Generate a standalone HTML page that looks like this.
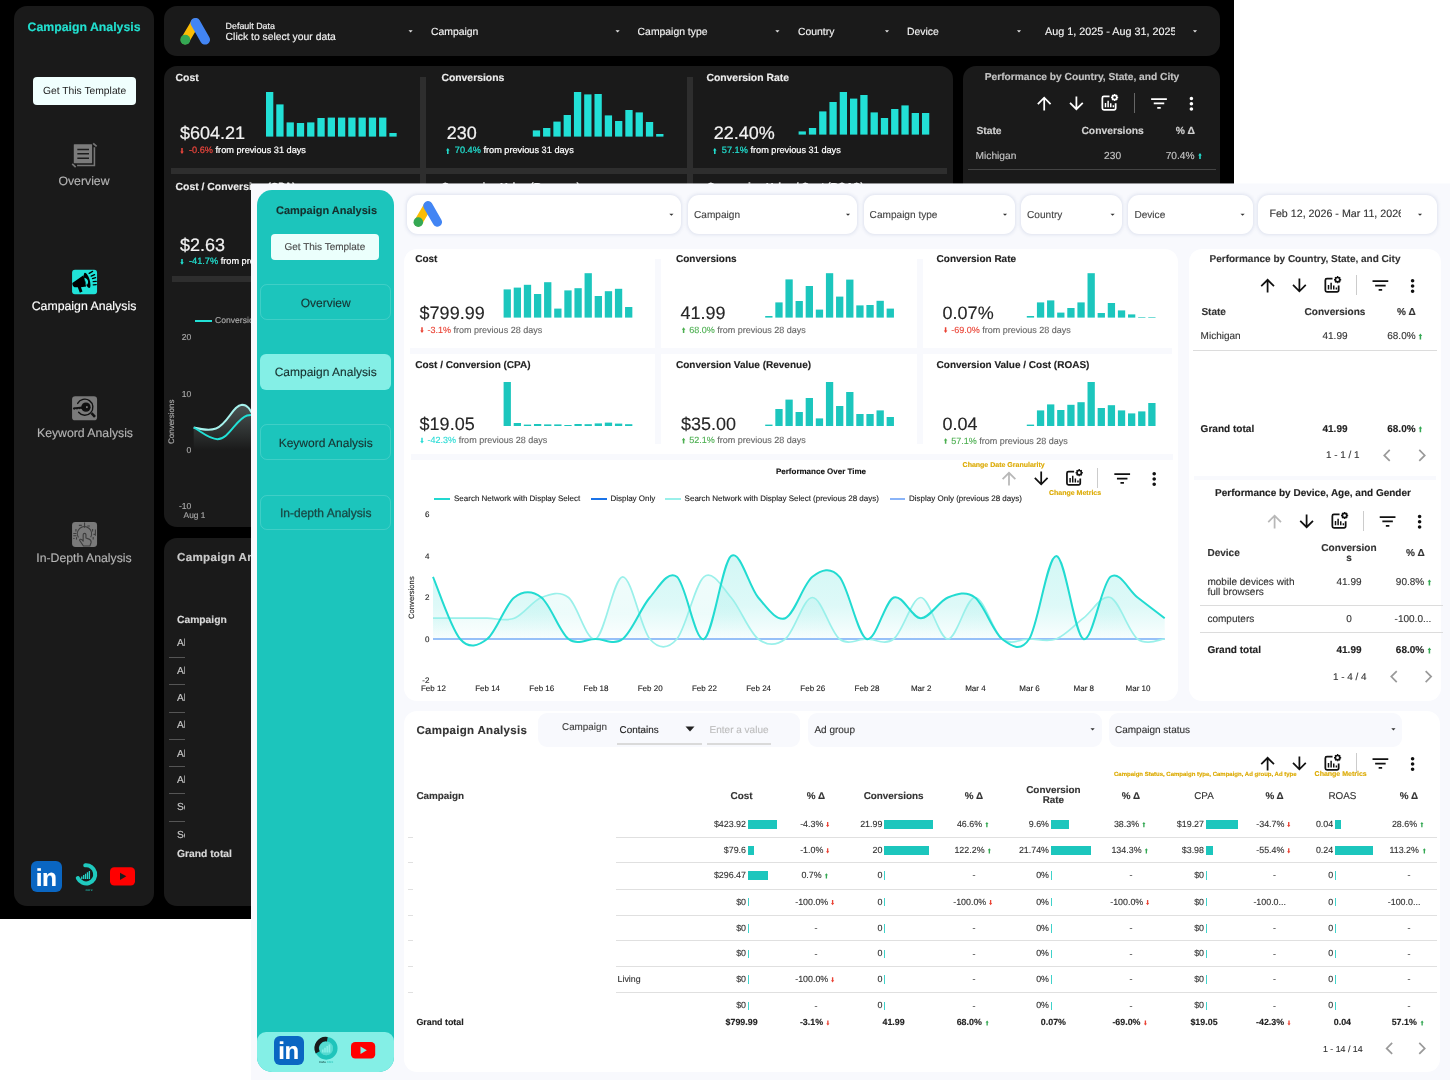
<!DOCTYPE html>
<html lang="en"><head><meta charset="utf-8"><title>Campaign Analysis Dashboard</title>
<style>
html,body{margin:0;padding:0;}
body{width:1450px;height:1080px;position:relative;overflow:hidden;background:#fff;font-family:"Liberation Sans",Arial,sans-serif;text-rendering:geometricPrecision;}
div,svg{position:absolute;white-space:nowrap;}
#dark{left:0;top:0;width:1234px;height:919px;background:#000;overflow:hidden;-webkit-text-stroke:.15px;}
#light{left:251px;top:183px;width:1199px;height:897px;background:linear-gradient(rgba(248,249,253,.55),rgba(248,249,253,.55)) 0 0/100% 1px no-repeat,linear-gradient(#f8f9fd,#f8f9fd) 0 1px/100% 100% no-repeat;overflow:hidden;-webkit-text-stroke:.12px;}
</style></head><body>
<div id="dark">
<div style="left:14.4px;top:6px;width:139.6px;height:899.6px;background:#1a1a1a;border-radius:13px;"></div>
<div style="top:20.12px;font-size:12.3px;line-height:14.76px;color:#22e0d0;font-weight:bold;left:-116px;width:400px;text-align:center;">Campaign Analysis</div>
<div style="left:33px;top:77.4px;width:103.2px;height:28px;background:#f0fffe;border-radius:4px;"></div>
<div style="top:86.12px;font-size:10.3px;line-height:12.36px;color:#222;left:-115.4px;width:400px;text-align:center;-webkit-text-stroke:0;">Get This Template</div>
<svg style="left:71px;top:142px;" width="27" height="26" viewBox="252.081 143.879 971.879 936.121"><path d="M1095 330V990H470" fill="none" stroke="#767676" stroke-width="56"/><path d="M1050 190L1175 300M295 935L420 1050" fill="none" stroke="#767676" stroke-width="62"/><rect x="352" y="222" width="660" height="686" rx="22" fill="#7b7b7b"/><path d="M480 415H900M480 566H900M480 726H900" stroke="#1c1c1c" stroke-width="52" fill="none"/></svg>
<div style="top:174.35px;font-size:12.25px;line-height:14.7px;color:#b4b4b4;left:-116px;width:400px;text-align:center;">Overview</div>
<svg style="left:71px;top:269px;" width="27" height="26" viewBox="251.925 144.16 971.831 936"><rect x="290" y="170" width="900" height="880" rx="105" fill="#20e3d9"/><path d="M300 650L700 372L795 770L610 800L665 955L570 995L495 805L380 805C320 770 295 710 300 650Z" fill="#000"/><ellipse cx="832" cy="552" rx="92" ry="285" transform="rotate(-17 832 552)" fill="#000"/><path d="M728 455C810 470 870 530 868 610C866 660 845 700 815 725C790 650 755 560 728 455Z" fill="#20e3d9"/><path d="M905 300L1030 228M980 402L1100 345M1025 492L1140 455M1050 600L1160 593M1050 712L1160 707" stroke="#000" stroke-width="46" stroke-linecap="round" fill="none"/></svg>
<div style="top:299.42px;font-size:12.3px;line-height:14.76px;color:#ffffff;left:-116px;width:400px;text-align:center;">Campaign Analysis</div>
<svg style="left:71px;top:395px;" width="27" height="26" viewBox="251.925 107.957 971.831 936.084"><rect x="290" y="150" width="900" height="870" rx="115" fill="#7a7a7a"/><path d="M492 412A290 290 0 1 1 525 730" fill="none" stroke="#111" stroke-width="50" stroke-linecap="round"/><path d="M990 760L1115 895" stroke="#111" stroke-width="92" fill="none"/><circle cx="790" cy="545" r="168" fill="#111"/><rect x="792" y="512" width="62" height="66" fill="#7a7a7a"/><path d="M320 578C330 548 360 545 420 545L660 520V610L590 600L560 625L520 605L470 632L420 610L370 635C335 630 315 610 320 578Z" fill="#111"/></svg>
<div style="top:425.85px;font-size:12.25px;line-height:14.7px;color:#b4b4b4;left:-115px;width:400px;text-align:center;">Keyword Analysis</div>
<svg style="left:71px;top:521px;" width="27" height="27" viewBox="251.925 108.044 971.831 971.831"><rect x="290" y="140" width="900" height="900" rx="120" fill="#7a7a7a"/><path d="M520 700A255 255 0 1 1 960 690" fill="none" stroke="#3d3d3d" stroke-width="40"/><path d="M690 760V600C690 540 790 540 790 600V720L900 760C960 790 985 830 975 880L930 1010H700L560 800C560 770 600 750 640 780L690 830Z" fill="#7a7a7a" stroke="#3d3d3d" stroke-width="40" stroke-linejoin="round"/><path d="M740 160V350M535 265H640M840 285H930M430 400V490M1030 400V490M1130 410V640M335 555H450M335 640H450M335 740H380M450 690V770M1050 680V770M1060 590H1140" fill="none" stroke="#3d3d3d" stroke-width="38"/></svg>
<div style="top:550.85px;font-size:12.25px;line-height:14.7px;color:#b4b4b4;left:-116px;width:400px;text-align:center;">In-Depth Analysis</div>
<div style="left:31.4px;top:861px;width:30.6px;height:31px;background:#0a66c2;border-radius:6px;"></div>
<div style="top:863.7px;font-size:24.5px;line-height:29.4px;color:#fff;font-weight:bold;left:-153.8px;width:400px;text-align:center;letter-spacing:-0.4px;">in</div>
<svg style="left:72px;top:860px;" width="28" height="34" viewBox="0 0 28 34"><path d="M13.300 5.280A9.100 9.100 0 1 1 5.850 18.200" fill="none" stroke="#1fc9be" stroke-width="4.100" stroke-linecap="round"/><path d="M9.800 18.900v-2.500M11.700 18.900v-3.800M13.600 18.900v-5.200M15.500 18.900v-6.600M17.400 18.900v-8" stroke="#27d5ca" stroke-width="1.300" fill="none"/><text x="17" y="31.300" font-size="3.400" font-weight="bold" fill="#1fa9a0" text-anchor="middle" font-family="Liberation Sans, sans-serif">core</text></svg>
<svg style="left:110px;top:867px;" width="25" height="19" viewBox="0 -0.3 25 19"><rect x="0" y="0" width="25" height="18.300" rx="4.200" fill="#ff0000"/><path d="M10 5.400l6.300 3.600-6.300 3.600z" fill="#1e1e1e"/></svg>
<div style="left:164px;top:6px;width:1056px;height:50px;background:#1a1a1a;border-radius:13px;"></div>
<svg style="left:180px;top:17px;" width="31" height="29" viewBox="-0.4 -0.9 31 29"><line x1="4.900" y1="21.900" x2="15" y2="4.900" stroke="#fbbc04" stroke-width="8.900" stroke-linecap="round"/><line x1="15" y1="4.900" x2="24.700" y2="21.800" stroke="#4285f4" stroke-width="9.800" stroke-linecap="round"/><circle cx="4.900" cy="21.900" r="5" fill="#34a853"/></svg>
<div style="top:20.66px;font-size:8.9px;line-height:10.68px;color:#f2f2f2;left:225.6px;">Default Data</div>
<div style="top:31.96px;font-size:10.4px;line-height:12.48px;color:#f2f2f2;left:225.6px;">Click to select your data</div>
<svg style="left:405px;top:26px;" width="11" height="11" viewBox="-1.44 -0.48 26.4 26.4"><path d="M7 10l5 5 5-5z" fill="#e0e0e0"/></svg>
<div style="top:26.86px;font-size:10.4px;line-height:12.48px;color:#f2f2f2;left:431px;">Campaign</div>
<svg style="left:612px;top:26px;" width="11" height="11" viewBox="-1.44 -0.48 26.4 26.4"><path d="M7 10l5 5 5-5z" fill="#e0e0e0"/></svg>
<div style="top:26.86px;font-size:10.4px;line-height:12.48px;color:#f2f2f2;left:637.6px;">Campaign type</div>
<svg style="left:772px;top:26px;" width="11" height="11" viewBox="-0.96 -0.48 26.4 26.4"><path d="M7 10l5 5 5-5z" fill="#e0e0e0"/></svg>
<div style="top:26.86px;font-size:10.4px;line-height:12.48px;color:#f2f2f2;left:798px;">Country</div>
<svg style="left:882px;top:26px;" width="10" height="11" viewBox="0 -0.48 24 26.4"><path d="M7 10l5 5 5-5z" fill="#e0e0e0"/></svg>
<div style="top:26.86px;font-size:10.4px;line-height:12.48px;color:#f2f2f2;left:907px;">Device</div>
<svg style="left:1014px;top:26px;" width="10" height="11" viewBox="0 -0.48 24 26.4"><path d="M7 10l5 5 5-5z" fill="#e0e0e0"/></svg>
<div style="top:25.82px;font-size:10.8px;line-height:12.96px;color:#f2f2f2;left:1045px;width:130px;overflow:hidden;">Aug 1, 2025 - Aug 31, 2025</div>
<svg style="left:1190px;top:26px;" width="10" height="11" viewBox="0 -0.48 24 26.4"><path d="M7 10l5 5 5-5z" fill="#e0e0e0"/></svg>
<div style="left:164px;top:66px;width:789px;height:461px;background:#1a1a1a;border-radius:13px;"></div>
<div style="left:171px;top:168px;width:776px;height:5.6px;background:#2e2e2e;"></div>
<div style="left:420px;top:77px;width:6.4px;height:400px;background:#2e2e2e;"></div>
<div style="left:687.4px;top:77px;width:6px;height:400px;background:#2e2e2e;"></div>
<div style="left:172px;top:276px;width:776px;height:5.6px;background:#2e2e2e;"></div>
<div style="top:72.56px;font-size:10.4px;line-height:12.48px;color:#ececec;font-weight:bold;left:175.6px;">Cost</div>
<div style="top:122.6px;font-size:18px;line-height:21.6px;color:#f2f2f2;left:180px;-webkit-text-stroke:.2px;">$604.21</div>
<svg style="left:180px;top:148px;" width="4" height="6" viewBox="-0.2 -0.1 4 6"><path d="M1.8 5.8L3.6 3.42H2.56V0H1.04V3.42H0z" fill="#e8453c"/></svg>
<div style="top:145.48px;font-size:9.2px;line-height:11.04px;color:#ffffff;left:189px;-webkit-text-stroke:.22px;"><span style="color:#e8453c">-0.6%</span> from previous 31 days</div>
<svg style="left:266px;top:92px;" width="132" height="45" viewBox="0 0 132 45"><rect x="0.00" y="0.00" width="7.3" height="44.60" fill="#22e0d6"/><rect x="10.28" y="12.40" width="7.3" height="32.20" fill="#22e0d6"/><rect x="20.56" y="30.40" width="7.3" height="14.20" fill="#22e0d6"/><rect x="30.84" y="31.00" width="7.3" height="13.60" fill="#22e0d6"/><rect x="41.12" y="30.40" width="7.3" height="14.20" fill="#22e0d6"/><rect x="51.40" y="26.00" width="7.3" height="18.60" fill="#22e0d6"/><rect x="61.68" y="25.60" width="7.3" height="19.00" fill="#22e0d6"/><rect x="71.96" y="25.60" width="7.3" height="19.00" fill="#22e0d6"/><rect x="82.24" y="25.60" width="7.3" height="19.00" fill="#22e0d6"/><rect x="92.52" y="25.60" width="7.3" height="19.00" fill="#22e0d6"/><rect x="102.80" y="25.60" width="7.3" height="19.00" fill="#22e0d6"/><rect x="113.08" y="25.60" width="7.3" height="19.00" fill="#22e0d6"/><rect x="123.36" y="41.00" width="7.3" height="3.60" fill="#22e0d6"/></svg>
<div style="top:72.56px;font-size:10.4px;line-height:12.48px;color:#ececec;font-weight:bold;left:441.4px;">Conversions</div>
<div style="top:122.6px;font-size:18px;line-height:21.6px;color:#f2f2f2;left:446.8px;-webkit-text-stroke:.2px;">230</div>
<svg style="left:446px;top:148px;" width="4" height="6" viewBox="0 -0.1 4 6"><path d="M1.8 0L3.6 2.38H2.56V5.8H1.04V2.38H0z" fill="#22e0d0"/></svg>
<div style="top:145.48px;font-size:9.2px;line-height:11.04px;color:#ffffff;left:454.8px;-webkit-text-stroke:.22px;"><span style="color:#22e0d0">70.4%</span> from previous 31 days</div>
<svg style="left:532px;top:92px;" width="133" height="45" viewBox="-0.8 0 133 45"><rect x="0.00" y="38.40" width="7.3" height="6.20" fill="#22e0d6"/><rect x="10.28" y="36.00" width="7.3" height="8.60" fill="#22e0d6"/><rect x="20.56" y="29.60" width="7.3" height="15.00" fill="#22e0d6"/><rect x="30.84" y="23.00" width="7.3" height="21.60" fill="#22e0d6"/><rect x="41.12" y="0.00" width="7.3" height="44.60" fill="#22e0d6"/><rect x="51.40" y="2.40" width="7.3" height="42.20" fill="#22e0d6"/><rect x="61.68" y="2.00" width="7.3" height="42.60" fill="#22e0d6"/><rect x="71.96" y="23.40" width="7.3" height="21.20" fill="#22e0d6"/><rect x="82.24" y="29.00" width="7.3" height="15.60" fill="#22e0d6"/><rect x="92.52" y="18.00" width="7.3" height="26.60" fill="#22e0d6"/><rect x="102.80" y="20.40" width="7.3" height="24.20" fill="#22e0d6"/><rect x="113.08" y="30.00" width="7.3" height="14.60" fill="#22e0d6"/><rect x="123.36" y="42.00" width="7.3" height="2.60" fill="#22e0d6"/></svg>
<div style="top:72.56px;font-size:10.4px;line-height:12.48px;color:#ececec;font-weight:bold;left:706.4px;">Conversion Rate</div>
<div style="top:122.6px;font-size:18px;line-height:21.6px;color:#f2f2f2;left:713.8px;-webkit-text-stroke:.2px;">22.40%</div>
<svg style="left:713px;top:148px;" width="4" height="6" viewBox="0 -0.1 4 6"><path d="M1.8 0L3.6 2.38H2.56V5.8H1.04V2.38H0z" fill="#22e0d0"/></svg>
<div style="top:145.48px;font-size:9.2px;line-height:11.04px;color:#ffffff;left:721.8px;-webkit-text-stroke:.22px;"><span style="color:#22e0d0">57.1%</span> from previous 31 days</div>
<svg style="left:798px;top:92px;" width="133" height="43" viewBox="-0.6 0 133 43"><rect x="0.00" y="39.40" width="7.3" height="3.20" fill="#22e0d6"/><rect x="10.28" y="36.00" width="7.3" height="6.60" fill="#22e0d6"/><rect x="20.56" y="19.40" width="7.3" height="23.20" fill="#22e0d6"/><rect x="30.84" y="10.00" width="7.3" height="32.60" fill="#22e0d6"/><rect x="41.12" y="0.00" width="7.3" height="42.60" fill="#22e0d6"/><rect x="51.40" y="6.60" width="7.3" height="36.00" fill="#22e0d6"/><rect x="61.68" y="3.00" width="7.3" height="39.60" fill="#22e0d6"/><rect x="71.96" y="20.40" width="7.3" height="22.20" fill="#22e0d6"/><rect x="82.24" y="26.00" width="7.3" height="16.60" fill="#22e0d6"/><rect x="92.52" y="17.00" width="7.3" height="25.60" fill="#22e0d6"/><rect x="102.80" y="13.40" width="7.3" height="29.20" fill="#22e0d6"/><rect x="113.08" y="21.00" width="7.3" height="21.60" fill="#22e0d6"/><rect x="123.36" y="21.00" width="7.3" height="21.60" fill="#22e0d6"/></svg>
<div style="top:181.76px;font-size:10.4px;line-height:12.48px;color:#ececec;font-weight:bold;left:175.6px;">Cost / Conversion (CPA)</div>
<div style="top:234.8px;font-size:18px;line-height:21.6px;color:#f2f2f2;left:180px;-webkit-text-stroke:.2px;">$2.63</div>
<svg style="left:180px;top:258px;" width="4" height="7" viewBox="-0.2 -0.9 4 7"><path d="M1.8 5.8L3.6 3.42H2.56V0H1.04V3.42H0z" fill="#22e0d0"/></svg>
<div style="top:256.28px;font-size:9.2px;line-height:11.04px;color:#ffffff;left:189px;-webkit-text-stroke:.22px;"><span style="color:#22e0d0">-41.7%</span> from previous 31 days</div>
<div style="top:181.85px;font-size:10.25px;line-height:12.3px;color:#ececec;font-weight:bold;left:441.4px;">Conversion Value (Revenue)</div>
<div style="top:181.85px;font-size:10.25px;line-height:12.3px;color:#ececec;font-weight:bold;left:707px;">Conversion Value / Cost (ROAS)</div>
<div style="left:195px;top:320.3px;width:16.6px;height:1.8px;background:#22e0d6;"></div>
<div style="top:315.24px;font-size:8.6px;line-height:10.32px;color:#a8a8a8;left:215px;">Conversions</div>
<div style="top:332.04px;font-size:8.6px;line-height:10.32px;color:#a8a8a8;left:161.4px;width:30px;text-align:right;">20</div>
<div style="top:388.64px;font-size:8.6px;line-height:10.32px;color:#a8a8a8;left:161.4px;width:30px;text-align:right;">10</div>
<div style="top:444.84px;font-size:8.6px;line-height:10.32px;color:#a8a8a8;left:161.4px;width:30px;text-align:right;">0</div>
<div style="top:500.84px;font-size:8.6px;line-height:10.32px;color:#a8a8a8;left:161.4px;width:30px;text-align:right;">-10</div>
<div style="top:510.82px;font-size:8.3px;line-height:9.96px;color:#a8a8a8;left:183.6px;">Aug 1</div>
<div style="top:417.2px;font-size:8px;line-height:9.6px;color:#a8a8a8;left:132px;width:80px;text-align:center;transform:rotate(-90deg);">Conversions</div>
<svg style="left:190px;top:395px;" width="120" height="60" viewBox="0 0 120 60"><defs><linearGradient id="dg" x1="0" y1="0" x2="0" y2="1"><stop offset="0" stop-color="#a9c4c2" stop-opacity=".34"/><stop offset="1" stop-color="#a9c4c2" stop-opacity="0"/></linearGradient></defs><path d="M3.700 32.500C12 34.500 19 36 26 33.500C38 29 43 10 52 9.800C59 9.800 61 17 66 26L66 55L3.700 55Z" fill="url(#dg)"/><path d="M3.700 32.500C12 34.500 19 36 26 33.500C38 29 43 10 52 9.800C59 9.800 61 17 66 26" fill="none" stroke="#a6f1ec" stroke-width="1.900"/><path d="M3.700 32.500C12 37 19 44.200 27.500 44.200C39 44.200 46 24 57 20.500C64 18.500 70 22 80 28" fill="none" stroke="#22e0d6" stroke-width="1.900"/></svg>
<div style="left:963px;top:66px;width:257px;height:461px;background:#1a1a1a;border-radius:13px;"></div>
<div style="top:72.08px;font-size:10.2px;line-height:12.24px;color:#c4c4c4;font-weight:bold;left:882px;width:400px;text-align:center;">Performance by Country, State, and City</div>
<svg style="left:1033px;top:92px;" width="22" height="22" viewBox="-0.8 -1.029 25.143 25.143"><path d="M4 12l1.41 1.41L11 7.83V20h2V7.83l5.58 5.59L20 12l-8-8-8 8z" fill="#ffffff"/></svg>
<svg style="left:1065px;top:92px;" width="22" height="22" viewBox="-1.029 -1.029 25.143 25.143"><path d="M20 12l-1.41-1.41L13 16.17V4h-2v12.17l-5.58-5.59L4 12l8 8 8-8z" fill="#ffffff"/></svg>
<svg style="left:1098px;top:92px;" width="22" height="22" viewBox="-0.571 -0.686 25.143 25.143"><path d="M12.600 4.400H6.200A1.800 1.800 0 0 0 4.400 6.200v11.600A1.800 1.800 0 0 0 6.200 19.600h11.600a1.800 1.800 0 0 0 1.800-1.800v-5.600" fill="none" stroke="#ffffff" stroke-width="2"/><path d="M8 16.800v-5M11 16.800v-7.600M14 16.800v-4.600M17 16.800v-2.400" fill="none" stroke="#ffffff" stroke-width="1.700"/><circle cx="18.400" cy="5.600" r="2.500" fill="none" stroke="#ffffff" stroke-width="1.900"/><path d="M18.400 1.500v1.300M18.400 8.400v1.300M14.300 5.600h1.300M21.200 5.600h1.300M15.500 2.700l.9.900M20.400 7.600l.9.900M15.500 8.500l.9-.9M20.400 3.600l.9-.9" fill="none" stroke="#ffffff" stroke-width="1.600"/></svg>
<div style="left:1133.5px;top:92.9px;width:1px;height:20px;background:#666;"></div>
<svg style="left:1148px;top:92px;" width="22" height="22" viewBox="-0.571 -1.029 25.143 25.143"><path d="M10 18h4v-2h-4v2zM3 6v2h18V6H3zm3 7h12v-2H6v2z" fill="#ffffff"/></svg>
<svg style="left:1180px;top:93px;" width="22" height="22" viewBox="-1.029 -0.229 25.143 25.143"><path d="M12 8c1.1 0 2-.9 2-2s-.9-2-2-2-2 .9-2 2 .9 2 2 2zm0 2c-1.1 0-2 .9-2 2s.9 2 2 2 2-.9 2-2-.9-2-2-2zm0 6c-1.1 0-2 .9-2 2s.9 2 2 2 2-.9 2-2-.9-2-2-2z" fill="#ffffff"/></svg>
<div style="top:126.02px;font-size:10.3px;line-height:12.36px;color:#d0d0d0;font-weight:bold;left:976.4px;">State</div>
<div style="top:126.02px;font-size:10.3px;line-height:12.36px;color:#d0d0d0;font-weight:bold;left:912.6px;width:400px;text-align:center;">Conversions</div>
<div style="top:126.02px;font-size:10.3px;line-height:12.36px;color:#d0d0d0;font-weight:bold;left:985.4px;width:400px;text-align:center;">% Δ</div>
<div style="top:151.08px;font-size:10.2px;line-height:12.24px;color:#c4c4c4;left:975.6px;">Michigan</div>
<div style="top:151.08px;font-size:10.2px;line-height:12.24px;color:#c4c4c4;left:912.6px;width:400px;text-align:center;">230</div>
<div style="top:151.08px;font-size:10.2px;line-height:12.24px;color:#c4c4c4;left:794.6px;width:400px;text-align:right;">70.4%</div>
<svg style="left:1198px;top:153px;" width="4" height="6" viewBox="-0.2 0 4 6"><path d="M1.8 0L3.6 2.38H2.56V6H1.04V2.38H0z" fill="#22e0d0"/></svg>
<div style="left:968px;top:169px;width:248px;height:1px;background:#444;"></div>
<div style="left:164px;top:538px;width:1056px;height:368px;background:#1a1a1a;border-radius:13px;"></div>
<div style="top:551.24px;font-size:11.6px;line-height:13.92px;color:#cacaca;font-weight:bold;left:177px;letter-spacing:.3px;">Campaign Analysis</div>
<div style="top:614.72px;font-size:10.3px;line-height:12.36px;color:#d8d8d8;font-weight:bold;left:177px;">Campaign</div>
<div style="top:638.28px;font-size:10.2px;line-height:12.24px;color:#c8c8c8;left:177px;width:7.7px;overflow:hidden;">Ab</div>
<div style="top:665.78px;font-size:10.2px;line-height:12.24px;color:#c8c8c8;left:177px;width:7.7px;overflow:hidden;">Ab</div>
<div style="top:693.38px;font-size:10.2px;line-height:12.24px;color:#c8c8c8;left:177px;width:7.7px;overflow:hidden;">Ab</div>
<div style="top:720.48px;font-size:10.2px;line-height:12.24px;color:#c8c8c8;left:177px;width:7.7px;overflow:hidden;">Ab</div>
<div style="top:749.08px;font-size:10.2px;line-height:12.24px;color:#c8c8c8;left:177px;width:7.7px;overflow:hidden;">Ab</div>
<div style="top:775.48px;font-size:10.2px;line-height:12.24px;color:#c8c8c8;left:177px;width:7.7px;overflow:hidden;">Ab</div>
<div style="top:802.48px;font-size:10.2px;line-height:12.24px;color:#c8c8c8;left:177px;width:7.7px;overflow:hidden;">Se</div>
<div style="top:830.28px;font-size:10.2px;line-height:12.24px;color:#c8c8c8;left:177px;width:7.7px;overflow:hidden;">Se</div>
<div style="left:168.6px;top:656.9px;width:16px;height:1px;background:#555;"></div>
<div style="left:168.6px;top:684.1px;width:16px;height:1px;background:#555;"></div>
<div style="left:168.6px;top:711.5px;width:16px;height:1px;background:#555;"></div>
<div style="left:168.6px;top:738.5px;width:16px;height:1px;background:#555;"></div>
<div style="left:168.6px;top:765.9px;width:16px;height:1px;background:#555;"></div>
<div style="left:168.6px;top:793.1px;width:16px;height:1px;background:#555;"></div>
<div style="left:168.6px;top:821.1px;width:16px;height:1px;background:#555;"></div>
<div style="top:849.32px;font-size:10.3px;line-height:12.36px;color:#d8d8d8;font-weight:bold;left:177px;">Grand total</div>
</div>
<div id="light">
<div style="left:6.4px;top:6.6px;width:136.6px;height:882.4px;background:#1cc5bc;border-radius:15px;"></div>
<div style="top:22.4px;font-size:11px;line-height:13.2px;color:#15302e;font-weight:bold;left:-124.5px;width:400px;text-align:center;">Campaign Analysis</div>
<div style="left:19.6px;top:50.6px;width:108.4px;height:26.8px;background:#ebfffc;border-radius:4px;"></div>
<div style="top:59.2px;font-size:10px;line-height:12px;color:#4a4a4a;left:-126.2px;width:400px;text-align:center;">Get This Template</div>
<div style="left:9px;top:100.6px;width:131px;height:36px;background:transparent;border-radius:7px;box-sizing:border-box;border:1px solid rgba(255,255,255,.16);"></div>
<div style="top:112.8px;font-size:12px;line-height:14.4px;color:#17302e;left:-125.3px;width:400px;text-align:center;">Overview</div>
<div style="left:8.9px;top:171px;width:131.6px;height:36.4px;background:#84efe6;border-radius:6px;"></div>
<div style="top:182px;font-size:12px;line-height:14.4px;color:#17302e;left:-125.3px;width:400px;text-align:center;">Campaign Analysis</div>
<div style="left:9px;top:241px;width:131px;height:36.4px;background:transparent;border-radius:7px;box-sizing:border-box;border:1px solid rgba(255,255,255,.16);"></div>
<div style="top:253px;font-size:12px;line-height:14.4px;color:#17302e;left:-125.3px;width:400px;text-align:center;">Keyword Analysis</div>
<div style="left:9px;top:312px;width:131px;height:35.4px;background:transparent;border-radius:7px;box-sizing:border-box;border:1px solid rgba(255,255,255,.16);"></div>
<div style="top:323px;font-size:12px;line-height:14.4px;color:#184a46;left:-125.3px;width:400px;text-align:center;-webkit-text-stroke:.3px;">In-depth Analysis</div>
<div style="left:6.4px;top:848.6px;width:136.6px;height:40.4px;background:#84efe6;border-radius:9px 9px 15px 15px;"></div>
<div style="left:23px;top:852.6px;width:29.6px;height:29px;background:#0a66c2;border-radius:6px;"></div>
<div style="top:854.9px;font-size:24px;line-height:28.8px;color:#fff;font-weight:bold;left:-162.4px;width:400px;text-align:center;letter-spacing:-0.4px;">in</div>
<svg style="left:61px;top:852px;" width="28" height="32" viewBox="0 0 28 32"><circle cx="14.200" cy="13.300" r="6.900" fill="#56dad1"/><circle cx="14.200" cy="13.300" r="9.100" fill="none" stroke="#1fc4bb" stroke-width="4.500"/><path d="M5.700 17.400A9.100 9.100 0 0 1 15.300 4.250" fill="none" stroke="#1a1a1a" stroke-width="4.500"/><path d="M10.800 17.600v-3M13 17.600v-4.800M15.200 17.600v-6.500M17.400 17.600v-8" stroke="#86efe7" stroke-width="1.700" fill="none"/><text x="14.200" y="28.300" font-size="3.100" font-weight="bold" fill="#2a6b66" text-anchor="middle" font-family="Liberation Sans, sans-serif">Data <tspan fill="#35c9c0">core</tspan></text></svg>
<svg style="left:100px;top:859px;" width="25" height="17" viewBox="0 0 25 17"><rect x="0" y="0" width="24.200" height="16.600" rx="4.200" fill="#ff0000"/><path d="M9.500 4.500l6.300 3.800-6.300 3.800z" fill="#84efe6"/></svg>
<div style="left:156px;top:12px;width:274px;height:39px;background:#fff;border-radius:11px;box-shadow:0 0 3.500px .500px rgba(90,110,160,.15);"></div>
<svg style="left:162px;top:18px;" width="30" height="27" viewBox="-0.625 0 31.25 27.914"><line x1="4.900" y1="21.900" x2="15" y2="4.900" stroke="#fbbc04" stroke-width="8.900" stroke-linecap="round"/><line x1="15" y1="4.900" x2="24.700" y2="21.800" stroke="#4285f4" stroke-width="9.800" stroke-linecap="round"/><circle cx="4.900" cy="21.900" r="5" fill="#34a853"/></svg>
<svg style="left:415px;top:26px;" width="11" height="11" viewBox="-0.96 -1.44 26.4 26.4"><path d="M7 10l5 5 5-5z" fill="#333"/></svg>
<div style="left:437px;top:12px;width:169px;height:39px;background:#fff;border-radius:11px;box-shadow:0 0 3.500px .500px rgba(90,110,160,.15);"></div>
<div style="top:27.24px;font-size:10.1px;line-height:12.12px;color:#444;left:443px;">Campaign</div>
<svg style="left:592px;top:26px;" width="10" height="11" viewBox="0 -1.44 24 26.4"><path d="M7 10l5 5 5-5z" fill="#333"/></svg>
<div style="left:612.6px;top:12px;width:151.4px;height:39px;background:#fff;border-radius:11px;box-shadow:0 0 3.500px .500px rgba(90,110,160,.15);"></div>
<div style="top:27.24px;font-size:10.1px;line-height:12.12px;color:#444;left:618.6px;">Campaign type</div>
<svg style="left:749px;top:26px;" width="10" height="11" viewBox="0 -1.44 24 26.4"><path d="M7 10l5 5 5-5z" fill="#333"/></svg>
<div style="left:770px;top:12px;width:101px;height:39px;background:#fff;border-radius:11px;box-shadow:0 0 3.500px .500px rgba(90,110,160,.15);"></div>
<div style="top:27.24px;font-size:10.1px;line-height:12.12px;color:#444;left:776px;">Country</div>
<svg style="left:856px;top:26px;" width="11" height="11" viewBox="-1.44 -1.44 26.4 26.4"><path d="M7 10l5 5 5-5z" fill="#333"/></svg>
<div style="left:877px;top:12px;width:125px;height:39px;background:#fff;border-radius:11px;box-shadow:0 0 3.500px .500px rgba(90,110,160,.15);"></div>
<div style="top:27.24px;font-size:10.1px;line-height:12.12px;color:#444;left:883.4px;">Device</div>
<svg style="left:986px;top:26px;" width="11" height="11" viewBox="-1.44 -1.44 26.4 26.4"><path d="M7 10l5 5 5-5z" fill="#333"/></svg>
<div style="left:1007px;top:12px;width:179px;height:39px;background:#fff;border-radius:11px;box-shadow:0 0 3.500px .500px rgba(90,110,160,.15);"></div>
<div style="top:25.48px;font-size:10.7px;line-height:12.84px;color:#333;left:1018.4px;width:131.2px;overflow:hidden;">Feb 12, 2026 - Mar 11, 2026</div>
<svg style="left:1164px;top:26px;" width="10" height="11" viewBox="0 -1.44 24 26.4"><path d="M7 10l5 5 5-5z" fill="#333"/></svg>
<div style="left:153px;top:66px;width:774px;height:452px;background:#fff;border-radius:13px;"></div>
<div style="left:159.4px;top:165px;width:761.6px;height:5.6px;background:#f8f9fd;"></div>
<div style="left:404px;top:76px;width:6px;height:185.4px;background:#f8f9fd;"></div>
<div style="left:666px;top:76px;width:5.6px;height:185.4px;background:#f8f9fd;"></div>
<div style="left:160px;top:271.4px;width:762px;height:5.6px;background:#f8f9fd;"></div>
<div style="top:71.2px;font-size:10px;line-height:12px;color:#222;font-weight:bold;left:164.2px;">Cost</div>
<div style="top:119.8px;font-size:18px;line-height:21.6px;color:#262626;left:168.6px;">$799.99</div>
<svg style="left:169px;top:144px;" width="4" height="6" viewBox="-0.2 -0.3 4 6"><path d="M1.8 5.6L3.6 3.22H2.56V0H1.04V3.22H0z" fill="#ea4335"/></svg>
<div style="top:141.9px;font-size:9px;line-height:10.8px;color:#666;left:176.6px;"><span style="color:#ea4335">-3.1%</span> from previous 28 days</div>
<svg style="left:252px;top:90px;" width="131" height="46" viewBox="-0.6 -0.2 131 46"><rect x="0.00" y="16.20" width="7.3" height="28.20" fill="#1cc6bd"/><rect x="10.12" y="14.40" width="7.3" height="30.00" fill="#1cc6bd"/><rect x="20.24" y="11.60" width="7.3" height="32.80" fill="#1cc6bd"/><rect x="30.36" y="20.80" width="7.3" height="23.60" fill="#1cc6bd"/><rect x="40.48" y="9.00" width="7.3" height="35.40" fill="#1cc6bd"/><rect x="50.60" y="35.40" width="7.3" height="9.00" fill="#1cc6bd"/><rect x="60.72" y="17.20" width="7.3" height="27.20" fill="#1cc6bd"/><rect x="70.84" y="15.00" width="7.3" height="29.40" fill="#1cc6bd"/><rect x="80.96" y="0.00" width="7.3" height="44.40" fill="#1cc6bd"/><rect x="91.08" y="22.80" width="7.3" height="21.60" fill="#1cc6bd"/><rect x="101.20" y="18.00" width="7.3" height="26.40" fill="#1cc6bd"/><rect x="111.32" y="15.60" width="7.3" height="28.80" fill="#1cc6bd"/><rect x="121.44" y="33.80" width="7.3" height="10.60" fill="#1cc6bd"/></svg>
<div style="top:71.2px;font-size:10px;line-height:12px;color:#222;font-weight:bold;left:425px;">Conversions</div>
<div style="top:119.8px;font-size:18px;line-height:21.6px;color:#262626;left:429.4px;">41.99</div>
<svg style="left:430px;top:144px;" width="5" height="6" viewBox="-0.8 -0.3 5 6"><path d="M1.8 0L3.6 2.38H2.56V5.6H1.04V2.38H0z" fill="#4caf50"/></svg>
<div style="top:141.9px;font-size:9px;line-height:10.8px;color:#666;left:438.2px;"><span style="color:#4caf50">68.0%</span> from previous 28 days</div>
<svg style="left:514px;top:90px;" width="131" height="46" viewBox="-0.2 -0.2 131 46"><rect x="0.00" y="42.80" width="7.3" height="1.60" fill="#1cc6bd"/><rect x="10.12" y="29.20" width="7.3" height="15.20" fill="#1cc6bd"/><rect x="20.24" y="6.20" width="7.3" height="38.20" fill="#1cc6bd"/><rect x="30.36" y="27.80" width="7.3" height="16.60" fill="#1cc6bd"/><rect x="40.48" y="12.80" width="7.3" height="31.60" fill="#1cc6bd"/><rect x="50.60" y="36.40" width="7.3" height="8.00" fill="#1cc6bd"/><rect x="60.72" y="0.00" width="7.3" height="44.40" fill="#1cc6bd"/><rect x="70.84" y="23.40" width="7.3" height="21.00" fill="#1cc6bd"/><rect x="80.96" y="6.40" width="7.3" height="38.00" fill="#1cc6bd"/><rect x="91.08" y="32.20" width="7.3" height="12.20" fill="#1cc6bd"/><rect x="101.20" y="31.80" width="7.3" height="12.60" fill="#1cc6bd"/><rect x="111.32" y="27.60" width="7.3" height="16.80" fill="#1cc6bd"/><rect x="121.44" y="35.40" width="7.3" height="9.00" fill="#1cc6bd"/></svg>
<div style="top:71.2px;font-size:10px;line-height:12px;color:#222;font-weight:bold;left:685.6px;">Conversion Rate</div>
<div style="top:119.8px;font-size:18px;line-height:21.6px;color:#262626;left:691.6px;">0.07%</div>
<svg style="left:692px;top:144px;" width="5" height="6" viewBox="-0.8 -0.3 5 6"><path d="M1.8 5.6L3.6 3.22H2.56V0H1.04V3.22H0z" fill="#ea4335"/></svg>
<div style="top:141.9px;font-size:9px;line-height:10.8px;color:#666;left:700.2px;"><span style="color:#ea4335">-69.0%</span> from previous 28 days</div>
<svg style="left:775px;top:90px;" width="131" height="46" viewBox="-0.8 -0.2 131 46"><rect x="0.00" y="42.80" width="7.3" height="1.60" fill="#1cc6bd"/><rect x="10.12" y="29.20" width="7.3" height="15.20" fill="#1cc6bd"/><rect x="20.24" y="27.20" width="7.3" height="17.20" fill="#1cc6bd"/><rect x="30.36" y="39.40" width="7.3" height="5.00" fill="#1cc6bd"/><rect x="40.48" y="34.80" width="7.3" height="9.60" fill="#1cc6bd"/><rect x="50.60" y="29.20" width="7.3" height="15.20" fill="#1cc6bd"/><rect x="60.72" y="0.00" width="7.3" height="44.40" fill="#1cc6bd"/><rect x="70.84" y="39.80" width="7.3" height="4.60" fill="#1cc6bd"/><rect x="80.96" y="29.80" width="7.3" height="14.60" fill="#1cc6bd"/><rect x="91.08" y="37.20" width="7.3" height="7.20" fill="#1cc6bd"/><rect x="101.20" y="41.20" width="7.3" height="3.20" fill="#1cc6bd"/><rect x="111.32" y="43.80" width="7.3" height="0.60" fill="#1cc6bd"/><rect x="121.44" y="43.80" width="7.3" height="0.60" fill="#1cc6bd"/></svg>
<div style="top:177.2px;font-size:10px;line-height:12px;color:#222;font-weight:bold;left:164.2px;">Cost / Conversion (CPA)</div>
<div style="top:231.2px;font-size:18px;line-height:21.6px;color:#262626;left:168.6px;">$19.05</div>
<svg style="left:169px;top:254px;" width="4" height="7" viewBox="-0.2 -0.8 4 7"><path d="M1.8 5.6L3.6 3.22H2.56V0H1.04V3.22H0z" fill="#2bdcd6"/></svg>
<div style="top:252.4px;font-size:9px;line-height:10.8px;color:#666;left:176.6px;"><span style="color:#2bdcd6">-42.3%</span> from previous 28 days</div>
<svg style="left:252px;top:199px;" width="131" height="44" viewBox="-0.6 0 131 44"><rect x="0.00" y="0.00" width="7.3" height="44.00" fill="#1cc6bd"/><rect x="10.12" y="41.00" width="7.3" height="3.00" fill="#1cc6bd"/><rect x="20.24" y="42.60" width="7.3" height="1.40" fill="#1cc6bd"/><rect x="30.36" y="42.00" width="7.3" height="2.00" fill="#1cc6bd"/><rect x="40.48" y="42.40" width="7.3" height="1.60" fill="#1cc6bd"/><rect x="50.60" y="42.40" width="7.3" height="1.60" fill="#1cc6bd"/><rect x="60.72" y="43.00" width="7.3" height="1.00" fill="#1cc6bd"/><rect x="70.84" y="42.00" width="7.3" height="2.00" fill="#1cc6bd"/><rect x="80.96" y="42.20" width="7.3" height="1.80" fill="#1cc6bd"/><rect x="91.08" y="41.40" width="7.3" height="2.60" fill="#1cc6bd"/><rect x="101.20" y="40.60" width="7.3" height="3.40" fill="#1cc6bd"/><rect x="111.32" y="41.60" width="7.3" height="2.40" fill="#1cc6bd"/><rect x="121.44" y="42.20" width="7.3" height="1.80" fill="#1cc6bd"/></svg>
<div style="top:177.2px;font-size:10px;line-height:12px;color:#222;font-weight:bold;left:425px;">Conversion Value (Revenue)</div>
<div style="top:231.2px;font-size:18px;line-height:21.6px;color:#262626;left:430px;">$35.00</div>
<svg style="left:430px;top:254px;" width="5" height="7" viewBox="-0.8 -0.8 5 7"><path d="M1.8 0L3.6 2.38H2.56V5.6H1.04V2.38H0z" fill="#4caf50"/></svg>
<div style="top:252.4px;font-size:9px;line-height:10.8px;color:#666;left:438.2px;"><span style="color:#4caf50">52.1%</span> from previous 28 days</div>
<svg style="left:514px;top:199px;" width="131" height="44" viewBox="-0.2 0 131 44"><rect x="0.00" y="42.60" width="7.3" height="1.40" fill="#1cc6bd"/><rect x="10.12" y="27.00" width="7.3" height="17.00" fill="#1cc6bd"/><rect x="20.24" y="17.60" width="7.3" height="26.40" fill="#1cc6bd"/><rect x="30.36" y="30.00" width="7.3" height="14.00" fill="#1cc6bd"/><rect x="40.48" y="16.00" width="7.3" height="28.00" fill="#1cc6bd"/><rect x="50.60" y="36.40" width="7.3" height="7.60" fill="#1cc6bd"/><rect x="60.72" y="0.00" width="7.3" height="44.00" fill="#1cc6bd"/><rect x="70.84" y="24.00" width="7.3" height="20.00" fill="#1cc6bd"/><rect x="80.96" y="10.00" width="7.3" height="34.00" fill="#1cc6bd"/><rect x="91.08" y="32.00" width="7.3" height="12.00" fill="#1cc6bd"/><rect x="101.20" y="32.00" width="7.3" height="12.00" fill="#1cc6bd"/><rect x="111.32" y="28.40" width="7.3" height="15.60" fill="#1cc6bd"/><rect x="121.44" y="35.00" width="7.3" height="9.00" fill="#1cc6bd"/></svg>
<div style="top:177.2px;font-size:10px;line-height:12px;color:#222;font-weight:bold;left:685.6px;">Conversion Value / Cost (ROAS)</div>
<div style="top:231.2px;font-size:18px;line-height:21.6px;color:#262626;left:691.6px;">0.04</div>
<svg style="left:692px;top:255px;" width="5" height="6" viewBox="-0.8 -0.2 5 6"><path d="M1.8 0L3.6 2.38H2.56V5.6H1.04V2.38H0z" fill="#4caf50"/></svg>
<div style="top:252.8px;font-size:9px;line-height:10.8px;color:#666;left:700.2px;"><span style="color:#4caf50">57.1%</span> from previous 28 days</div>
<svg style="left:775px;top:199px;" width="131" height="44" viewBox="-0.8 0 131 44"><rect x="0.00" y="42.60" width="7.3" height="1.40" fill="#1cc6bd"/><rect x="10.12" y="28.40" width="7.3" height="15.60" fill="#1cc6bd"/><rect x="20.24" y="22.40" width="7.3" height="21.60" fill="#1cc6bd"/><rect x="30.36" y="28.00" width="7.3" height="16.00" fill="#1cc6bd"/><rect x="40.48" y="22.80" width="7.3" height="21.20" fill="#1cc6bd"/><rect x="50.60" y="20.20" width="7.3" height="23.80" fill="#1cc6bd"/><rect x="60.72" y="0.00" width="7.3" height="44.00" fill="#1cc6bd"/><rect x="70.84" y="26.00" width="7.3" height="18.00" fill="#1cc6bd"/><rect x="80.96" y="23.20" width="7.3" height="20.80" fill="#1cc6bd"/><rect x="91.08" y="28.40" width="7.3" height="15.60" fill="#1cc6bd"/><rect x="101.20" y="31.40" width="7.3" height="12.60" fill="#1cc6bd"/><rect x="111.32" y="29.40" width="7.3" height="14.60" fill="#1cc6bd"/><rect x="121.44" y="21.00" width="7.3" height="23.00" fill="#1cc6bd"/></svg>
<div style="top:284.2px;font-size:8px;line-height:9.6px;color:#111;font-weight:bold;left:370px;width:400px;text-align:center;">Performance Over Time</div>
<div style="top:279.3px;font-size:7px;line-height:8.4px;color:#dcaa00;font-weight:bold;left:711.6px;">Change Date Granularity</div>
<div style="top:307.2px;font-size:7px;line-height:8.4px;color:#dcaa00;font-weight:bold;left:798px;">Change Metrics</div>
<svg style="left:747px;top:285px;" width="22" height="22" viewBox="-0.571 -0.114 25.143 25.143"><path d="M4 12l1.41 1.41L11 7.83V20h2V7.83l5.58 5.59L20 12l-8-8-8 8z" fill="#b8b8b8"/></svg>
<svg style="left:779px;top:285px;" width="22" height="22" viewBox="-0.8 -0.114 25.143 25.143"><path d="M20 12l-1.41-1.41L13 16.17V4h-2v12.17l-5.58-5.59L4 12l8 8 8-8z" fill="#111"/></svg>
<svg style="left:812px;top:284px;" width="22" height="22" viewBox="-0.114 -0.914 25.143 25.143"><path d="M12.600 4.400H6.200A1.800 1.800 0 0 0 4.400 6.200v11.600A1.800 1.800 0 0 0 6.200 19.600h11.600a1.800 1.800 0 0 0 1.800-1.800v-5.600" fill="none" stroke="#111" stroke-width="2"/><path d="M8 16.800v-5M11 16.800v-7.600M14 16.800v-4.600M17 16.800v-2.400" fill="none" stroke="#111" stroke-width="1.700"/><circle cx="18.400" cy="5.600" r="2.500" fill="none" stroke="#111" stroke-width="1.900"/><path d="M18.400 1.500v1.300M18.400 8.400v1.300M14.300 5.600h1.300M21.200 5.600h1.300M15.500 2.700l.9.900M20.400 7.600l.9.900M15.500 8.500l.9-.9M20.400 3.600l.9-.9" fill="none" stroke="#111" stroke-width="1.600"/></svg>
<div style="left:846.1px;top:285.1px;width:1px;height:20px;background:#ccc;"></div>
<svg style="left:860px;top:285px;" width="22" height="22" viewBox="-0.8 -0.114 25.143 25.143"><path d="M10 18h4v-2h-4v2zM3 6v2h18V6H3zm3 7h12v-2H6v2z" fill="#111"/></svg>
<svg style="left:892px;top:285px;" width="22" height="22" viewBox="-0.8 -0.457 25.143 25.143"><path d="M12 8c1.1 0 2-.9 2-2s-.9-2-2-2-2 .9-2 2 .9 2 2 2zm0 2c-1.1 0-2 .9-2 2s.9 2 2 2 2-.9 2-2-.9-2-2-2zm0 6c-1.1 0-2 .9-2 2s.9 2 2 2 2-.9 2-2-.9-2-2-2z" fill="#111"/></svg>
<div style="left:183.4px;top:315px;width:16px;height:1.6px;background:#22d8d0;"></div>
<div style="top:310.7px;font-size:8px;line-height:9.6px;color:#222;left:203px;">Search Network with Display Select</div>
<div style="left:340px;top:315px;width:15.6px;height:1.6px;background:#1a73e8;"></div>
<div style="top:310.7px;font-size:8px;line-height:9.6px;color:#222;left:359.4px;">Display Only</div>
<div style="left:414px;top:315px;width:16px;height:1.6px;background:#9af0ea;"></div>
<div style="top:310.7px;font-size:8px;line-height:9.6px;color:#222;left:433.6px;">Search Network with Display Select (previous 28 days)</div>
<div style="left:638.6px;top:315px;width:15.8px;height:1.6px;background:#8ab4f8;"></div>
<div style="top:310.7px;font-size:8px;line-height:9.6px;color:#222;left:658px;">Display Only (previous 28 days)</div>
<div style="top:327px;font-size:8px;line-height:9.6px;color:#222;left:148.4px;width:30px;text-align:right;">6</div>
<div style="top:368.5px;font-size:8px;line-height:9.6px;color:#222;left:148.4px;width:30px;text-align:right;">4</div>
<div style="top:410px;font-size:8px;line-height:9.6px;color:#222;left:148.4px;width:30px;text-align:right;">2</div>
<div style="top:451.5px;font-size:8px;line-height:9.6px;color:#222;left:148.4px;width:30px;text-align:right;">0</div>
<div style="top:493px;font-size:8px;line-height:9.6px;color:#222;left:148.4px;width:30px;text-align:right;">-2</div>
<div style="top:500.7px;font-size:8px;line-height:9.6px;color:#222;left:152.4px;width:60px;text-align:center;">Feb 12</div>
<div style="top:500.7px;font-size:8px;line-height:9.6px;color:#222;left:206.6px;width:60px;text-align:center;">Feb 14</div>
<div style="top:500.7px;font-size:8px;line-height:9.6px;color:#222;left:260.8px;width:60px;text-align:center;">Feb 16</div>
<div style="top:500.7px;font-size:8px;line-height:9.6px;color:#222;left:315px;width:60px;text-align:center;">Feb 18</div>
<div style="top:500.7px;font-size:8px;line-height:9.6px;color:#222;left:369.2px;width:60px;text-align:center;">Feb 20</div>
<div style="top:500.7px;font-size:8px;line-height:9.6px;color:#222;left:423.4px;width:60px;text-align:center;">Feb 22</div>
<div style="top:500.7px;font-size:8px;line-height:9.6px;color:#222;left:477.6px;width:60px;text-align:center;">Feb 24</div>
<div style="top:500.7px;font-size:8px;line-height:9.6px;color:#222;left:531.8px;width:60px;text-align:center;">Feb 26</div>
<div style="top:500.7px;font-size:8px;line-height:9.6px;color:#222;left:586px;width:60px;text-align:center;">Feb 28</div>
<div style="top:500.7px;font-size:8px;line-height:9.6px;color:#222;left:640.2px;width:60px;text-align:center;">Mar 2</div>
<div style="top:500.7px;font-size:8px;line-height:9.6px;color:#222;left:694.4px;width:60px;text-align:center;">Mar 4</div>
<div style="top:500.7px;font-size:8px;line-height:9.6px;color:#222;left:748.6px;width:60px;text-align:center;">Mar 6</div>
<div style="top:500.7px;font-size:8px;line-height:9.6px;color:#222;left:802.8px;width:60px;text-align:center;">Mar 8</div>
<div style="top:500.7px;font-size:8px;line-height:9.6px;color:#222;left:857px;width:60px;text-align:center;">Mar 10</div>
<div style="top:410.38px;font-size:7.7px;line-height:9.24px;color:#222;left:121.4px;width:80px;text-align:center;transform:rotate(-90deg);">Conversions</div>
<svg style="left:174px;top:357px;" width="750" height="120" viewBox="0 0 750 120"><defs><linearGradient id="lg1" gradientUnits="userSpaceOnUse" x1="0" y1="16" x2="0" y2="99"><stop offset="0" stop-color="#22d8d0" stop-opacity=".2"/><stop offset=".6" stop-color="#22d8d0" stop-opacity=".15"/><stop offset="1" stop-color="#22d8d0" stop-opacity=".02"/></linearGradient><linearGradient id="lg2" gradientUnits="userSpaceOnUse" x1="0" y1="36.75" x2="0" y2="99"><stop offset="0" stop-color="#7de8e0" stop-opacity=".12"/><stop offset=".6" stop-color="#7de8e0" stop-opacity=".14"/><stop offset="1" stop-color="#7de8e0" stop-opacity=".02"/></linearGradient></defs><path d="M8.0 78.2C12.5 78.2 26.1 78.2 35.1 78.2C44.1 78.2 53.2 78.2 62.2 78.2C71.2 78.2 80.3 81.7 89.3 78.2C98.3 74.8 107.4 61.0 116.4 57.5C125.4 54.0 134.5 50.6 143.5 57.5C152.5 64.4 161.6 102.5 170.6 99.0C179.6 95.5 188.7 36.8 197.7 36.8C206.7 36.8 215.8 88.6 224.8 99.0C233.8 109.4 242.9 109.4 251.9 99.0C260.9 88.6 270.0 43.7 279.0 36.8C288.0 29.8 297.1 47.1 306.1 57.5C315.1 67.9 324.2 92.1 333.2 99.0C342.2 105.9 351.3 105.9 360.3 99.0C369.3 92.1 378.4 57.5 387.4 57.5C396.4 57.5 405.5 92.1 414.5 99.0C423.5 105.9 432.6 99.0 441.6 99.0C450.6 99.0 459.7 105.9 468.7 99.0C477.7 92.1 486.8 57.5 495.8 57.5C504.8 57.5 513.9 99.0 522.9 99.0C531.9 99.0 541.0 57.5 550.0 57.5C559.0 57.5 568.1 92.1 577.1 99.0C586.1 105.9 595.2 99.0 604.2 99.0C613.2 99.0 622.3 102.5 631.3 99.0C640.3 95.5 649.4 85.2 658.4 78.2C667.4 71.3 676.5 54.0 685.5 57.5C694.5 61.0 703.6 92.1 712.6 99.0C721.6 105.9 735.2 99.0 739.7 99.0L739.7 99.0L8.0 99.0Z" fill="url(#lg2)"/><path d="M8.0 36.8C12.5 47.1 26.1 88.6 35.1 99.0C44.1 109.4 53.2 105.9 62.2 99.0C71.2 92.1 80.3 64.4 89.3 57.5C98.3 50.6 107.4 50.6 116.4 57.5C125.4 64.4 134.5 92.1 143.5 99.0C152.5 105.9 161.6 99.0 170.6 99.0C179.6 99.0 188.7 105.9 197.7 99.0C206.7 92.1 215.8 67.9 224.8 57.5C233.8 47.1 242.9 29.8 251.9 36.8C260.9 43.7 270.0 102.5 279.0 99.0C288.0 95.5 297.1 22.9 306.1 16.0C315.1 9.1 324.2 47.1 333.2 57.5C342.2 67.9 351.3 81.7 360.3 78.2C369.3 74.8 378.4 43.7 387.4 36.8C396.4 29.8 405.5 26.4 414.5 36.8C423.5 47.1 432.6 95.5 441.6 99.0C450.6 102.5 459.7 61.0 468.7 57.5C477.7 54.0 486.8 78.2 495.8 78.2C504.8 78.2 513.9 61.0 522.9 57.5C531.9 54.0 541.0 50.6 550.0 57.5C559.0 64.4 568.1 92.1 577.1 99.0C586.1 105.9 595.2 112.8 604.2 99.0C613.2 85.2 622.3 16.0 631.3 16.0C640.3 16.0 649.4 95.5 658.4 99.0C667.4 102.5 676.5 43.7 685.5 36.8C694.5 29.8 703.6 50.6 712.6 57.5C721.6 64.4 735.2 74.8 739.7 78.2L739.7 99.0L8.0 99.0Z" fill="url(#lg1)"/><path d="M8.0 99.0H739.7" stroke="#96c0f8" stroke-width="1.800" fill="none"/><path d="M8.0 78.2C12.5 78.2 26.1 78.2 35.1 78.2C44.1 78.2 53.2 78.2 62.2 78.2C71.2 78.2 80.3 81.7 89.3 78.2C98.3 74.8 107.4 61.0 116.4 57.5C125.4 54.0 134.5 50.6 143.5 57.5C152.5 64.4 161.6 102.5 170.6 99.0C179.6 95.5 188.7 36.8 197.7 36.8C206.7 36.8 215.8 88.6 224.8 99.0C233.8 109.4 242.9 109.4 251.9 99.0C260.9 88.6 270.0 43.7 279.0 36.8C288.0 29.8 297.1 47.1 306.1 57.5C315.1 67.9 324.2 92.1 333.2 99.0C342.2 105.9 351.3 105.9 360.3 99.0C369.3 92.1 378.4 57.5 387.4 57.5C396.4 57.5 405.5 92.1 414.5 99.0C423.5 105.9 432.6 99.0 441.6 99.0C450.6 99.0 459.7 105.9 468.7 99.0C477.7 92.1 486.8 57.5 495.8 57.5C504.8 57.5 513.9 99.0 522.9 99.0C531.9 99.0 541.0 57.5 550.0 57.5C559.0 57.5 568.1 92.1 577.1 99.0C586.1 105.9 595.2 99.0 604.2 99.0C613.2 99.0 622.3 102.5 631.3 99.0C640.3 95.5 649.4 85.2 658.4 78.2C667.4 71.3 676.5 54.0 685.5 57.5C694.5 61.0 703.6 92.1 712.6 99.0C721.6 105.9 735.2 99.0 739.7 99.0" fill="none" stroke="#9af0ea" stroke-width="1.700"/><path d="M8.0 36.8C12.5 47.1 26.1 88.6 35.1 99.0C44.1 109.4 53.2 105.9 62.2 99.0C71.2 92.1 80.3 64.4 89.3 57.5C98.3 50.6 107.4 50.6 116.4 57.5C125.4 64.4 134.5 92.1 143.5 99.0C152.5 105.9 161.6 99.0 170.6 99.0C179.6 99.0 188.7 105.9 197.7 99.0C206.7 92.1 215.8 67.9 224.8 57.5C233.8 47.1 242.9 29.8 251.9 36.8C260.9 43.7 270.0 102.5 279.0 99.0C288.0 95.5 297.1 22.9 306.1 16.0C315.1 9.1 324.2 47.1 333.2 57.5C342.2 67.9 351.3 81.7 360.3 78.2C369.3 74.8 378.4 43.7 387.4 36.8C396.4 29.8 405.5 26.4 414.5 36.8C423.5 47.1 432.6 95.5 441.6 99.0C450.6 102.5 459.7 61.0 468.7 57.5C477.7 54.0 486.8 78.2 495.8 78.2C504.8 78.2 513.9 61.0 522.9 57.5C531.9 54.0 541.0 50.6 550.0 57.5C559.0 64.4 568.1 92.1 577.1 99.0C586.1 105.9 595.2 112.8 604.2 99.0C613.2 85.2 622.3 16.0 631.3 16.0C640.3 16.0 649.4 95.5 658.4 99.0C667.4 102.5 676.5 43.7 685.5 36.8C694.5 29.8 703.6 50.6 712.6 57.5C721.6 64.4 735.2 74.8 739.7 78.2" fill="none" stroke="#22dbd1" stroke-width="2"/></svg>
<div style="left:938px;top:66px;width:252px;height:452px;background:#fff;border-radius:13px;"></div>
<div style="top:71.2px;font-size:10px;line-height:12px;color:#333;font-weight:bold;left:854px;width:400px;text-align:center;">Performance by Country, State, and City</div>
<svg style="left:1006px;top:92px;" width="22" height="22" viewBox="-0.114 -0.114 25.143 25.143"><path d="M4 12l1.41 1.41L11 7.83V20h2V7.83l5.58 5.59L20 12l-8-8-8 8z" fill="#111"/></svg>
<svg style="left:1037px;top:92px;" width="22" height="22" viewBox="-1.029 -0.114 25.143 25.143"><path d="M20 12l-1.41-1.41L13 16.17V4h-2v12.17l-5.58-5.59L4 12l8 8 8-8z" fill="#111"/></svg>
<svg style="left:1070px;top:91px;" width="22" height="22" viewBox="-0.571 -0.914 25.143 25.143"><path d="M12.600 4.400H6.200A1.800 1.800 0 0 0 4.400 6.200v11.600A1.800 1.800 0 0 0 6.200 19.600h11.600a1.800 1.800 0 0 0 1.800-1.800v-5.600" fill="none" stroke="#111" stroke-width="2"/><path d="M8 16.800v-5M11 16.800v-7.600M14 16.800v-4.600M17 16.800v-2.400" fill="none" stroke="#111" stroke-width="1.700"/><circle cx="18.400" cy="5.600" r="2.500" fill="none" stroke="#111" stroke-width="1.900"/><path d="M18.400 1.500v1.300M18.400 8.400v1.300M14.300 5.600h1.300M21.200 5.600h1.300M15.500 2.700l.9.900M20.400 7.600l.9.900M15.500 8.500l.9-.9M20.400 3.600l.9-.9" fill="none" stroke="#111" stroke-width="1.600"/></svg>
<div style="left:1105.1px;top:92.1px;width:1px;height:20px;background:#ccc;"></div>
<svg style="left:1118px;top:92px;" width="22" height="22" viewBox="-1.029 -0.114 25.143 25.143"><path d="M10 18h4v-2h-4v2zM3 6v2h18V6H3zm3 7h12v-2H6v2z" fill="#111"/></svg>
<svg style="left:1151px;top:92px;" width="22" height="22" viewBox="-0.114 -0.457 25.143 25.143"><path d="M12 8c1.1 0 2-.9 2-2s-.9-2-2-2-2 .9-2 2 .9 2 2 2zm0 2c-1.1 0-2 .9-2 2s.9 2 2 2 2-.9 2-2-.9-2-2-2zm0 6c-1.1 0-2 .9-2 2s.9 2 2 2 2-.9 2-2-.9-2-2-2z" fill="#111"/></svg>
<div style="top:123.57px;font-size:10.05px;line-height:12.06px;color:#333;font-weight:bold;left:950.4px;">State</div>
<div style="top:123.57px;font-size:10.05px;line-height:12.06px;color:#333;font-weight:bold;left:884px;width:400px;text-align:center;">Conversions</div>
<div style="top:123.57px;font-size:10.05px;line-height:12.06px;color:#333;font-weight:bold;left:955.4px;width:400px;text-align:center;">% Δ</div>
<div style="top:148.4px;font-size:10px;line-height:12px;color:#333;left:949.6px;">Michigan</div>
<div style="top:148.4px;font-size:10px;line-height:12px;color:#333;left:884px;width:400px;text-align:center;">41.99</div>
<div style="top:148.4px;font-size:10px;line-height:12px;color:#333;left:764.6px;width:400px;text-align:right;">68.0%</div>
<svg style="left:1167px;top:150px;" width="5" height="7" viewBox="-0.6 -0.6 5 7"><path d="M1.8 0L3.6 2.38H2.56V6H1.04V2.38H0z" fill="#34a853"/></svg>
<div style="left:942px;top:167px;width:244px;height:1px;background:#dcdcdc;"></div>
<div style="top:240.57px;font-size:10.05px;line-height:12.06px;color:#222;font-weight:bold;left:949.6px;">Grand total</div>
<div style="top:240.6px;font-size:10px;line-height:12px;color:#222;font-weight:bold;left:884px;width:400px;text-align:center;">41.99</div>
<div style="top:240.6px;font-size:10px;line-height:12px;color:#222;font-weight:bold;left:764.6px;width:400px;text-align:right;">68.0%</div>
<svg style="left:1167px;top:243px;" width="5" height="7" viewBox="-0.6 -0.2 5 7"><path d="M1.8 0L3.6 2.38H2.56V6H1.04V2.38H0z" fill="#34a853"/></svg>
<div style="top:267.26px;font-size:9.9px;line-height:11.88px;color:#333;left:1075px;">1 - 1 / 1</div>
<svg style="left:1131px;top:265px;" width="10" height="14" viewBox="-0.75 -0.9 10 14"><path d="M7 1L1.500 6.500L7 12" fill="none" stroke="#9a9a9a" stroke-width="1.700"/></svg>
<svg style="left:1166px;top:265px;" width="10" height="14" viewBox="-0.75 -0.9 10 14"><path d="M1.500 1L7 6.500L1.500 12" fill="none" stroke="#9a9a9a" stroke-width="1.700"/></svg>
<div style="left:943px;top:292.6px;width:242px;height:4.4px;background:#f8f9fd;"></div>
<div style="top:305.1px;font-size:10px;line-height:12px;color:#222;font-weight:bold;left:862px;width:400px;text-align:center;">Performance by Device, Age, and Gender</div>
<svg style="left:1013px;top:327px;" width="22" height="22" viewBox="-0.114 -1.029 25.143 25.143"><path d="M4 12l1.41 1.41L11 7.83V20h2V7.83l5.58 5.59L20 12l-8-8-8 8z" fill="#b8b8b8"/></svg>
<svg style="left:1045px;top:327px;" width="22" height="22" viewBox="-0.114 -1.029 25.143 25.143"><path d="M20 12l-1.41-1.41L13 16.17V4h-2v12.17l-5.58-5.59L4 12l8 8 8-8z" fill="#111"/></svg>
<svg style="left:1077px;top:327px;" width="22" height="22" viewBox="-0.571 -0.686 25.143 25.143"><path d="M12.600 4.400H6.200A1.800 1.800 0 0 0 4.400 6.200v11.600A1.800 1.800 0 0 0 6.200 19.600h11.600a1.800 1.800 0 0 0 1.800-1.800v-5.600" fill="none" stroke="#111" stroke-width="2"/><path d="M8 16.800v-5M11 16.800v-7.600M14 16.800v-4.600M17 16.800v-2.400" fill="none" stroke="#111" stroke-width="1.700"/><circle cx="18.400" cy="5.600" r="2.500" fill="none" stroke="#111" stroke-width="1.900"/><path d="M18.400 1.500v1.300M18.400 8.400v1.300M14.300 5.600h1.300M21.200 5.600h1.300M15.500 2.700l.9.900M20.400 7.600l.9.900M15.500 8.500l.9-.9M20.400 3.600l.9-.9" fill="none" stroke="#111" stroke-width="1.600"/></svg>
<div style="left:1112.1px;top:327.9px;width:1px;height:20px;background:#ccc;"></div>
<svg style="left:1126px;top:327px;" width="22" height="22" viewBox="-0.114 -1.029 25.143 25.143"><path d="M10 18h4v-2h-4v2zM3 6v2h18V6H3zm3 7h12v-2H6v2z" fill="#111"/></svg>
<svg style="left:1158px;top:328px;" width="22" height="22" viewBox="-0.114 -0.229 25.143 25.143"><path d="M12 8c1.1 0 2-.9 2-2s-.9-2-2-2-2 .9-2 2 .9 2 2 2zm0 2c-1.1 0-2 .9-2 2s.9 2 2 2 2-.9 2-2-.9-2-2-2zm0 6c-1.1 0-2 .9-2 2s.9 2 2 2 2-.9 2-2-.9-2-2-2z" fill="#111"/></svg>
<div style="top:364.97px;font-size:10.05px;line-height:12.06px;color:#333;font-weight:bold;left:956.4px;">Device</div>
<div style="top:366.1px;font-size:10.05px;line-height:9.6px;color:#333;font-weight:bold;left:898px;width:400px;text-align:center;height:19.2px;margin-top:-4.8px;">Conversion<br>s</div>
<div style="top:364.57px;font-size:10.05px;line-height:12.06px;color:#333;font-weight:bold;left:964.4px;width:400px;text-align:center;">% Δ</div>
<div style="top:399.6px;font-size:10.05px;line-height:10px;color:#333;left:956.4px;margin-top:-5px;">mobile devices with<br>full browsers</div>
<div style="top:393.6px;font-size:10px;line-height:12px;color:#333;left:898px;width:400px;text-align:center;">41.99</div>
<div style="top:393.6px;font-size:10px;line-height:12px;color:#333;left:773.2px;width:400px;text-align:right;">90.8%</div>
<svg style="left:1176px;top:396px;" width="5" height="7" viewBox="-0.6 -0.4 5 7"><path d="M1.8 0L3.6 2.38H2.56V6H1.04V2.38H0z" fill="#34a853"/></svg>
<div style="left:948.6px;top:422px;width:243.4px;height:1px;background:#dcdcdc;"></div>
<div style="top:430.97px;font-size:10.05px;line-height:12.06px;color:#333;left:956.4px;">computers</div>
<div style="top:431px;font-size:10px;line-height:12px;color:#333;left:898px;width:400px;text-align:center;">0</div>
<div style="top:431px;font-size:10px;line-height:12px;color:#333;left:1143.6px;">-100.0...</div>
<div style="left:948.6px;top:449.2px;width:243.4px;height:1px;background:#dcdcdc;"></div>
<div style="top:462.37px;font-size:10.05px;line-height:12.06px;color:#222;font-weight:bold;left:956.4px;">Grand total</div>
<div style="top:462.4px;font-size:10px;line-height:12px;color:#222;font-weight:bold;left:898px;width:400px;text-align:center;">41.99</div>
<div style="top:462.4px;font-size:10px;line-height:12px;color:#222;font-weight:bold;left:773.2px;width:400px;text-align:right;">68.0%</div>
<svg style="left:1176px;top:464px;" width="5" height="7" viewBox="-0.6 -0.6 5 7"><path d="M1.8 0L3.6 2.38H2.56V6H1.04V2.38H0z" fill="#34a853"/></svg>
<div style="top:488.66px;font-size:9.9px;line-height:11.88px;color:#333;left:1082px;">1 - 4 / 4</div>
<svg style="left:1138px;top:487px;" width="10" height="14" viewBox="-0.75 -0.1 10 14"><path d="M7 1L1.500 6.500L7 12" fill="none" stroke="#9a9a9a" stroke-width="1.700"/></svg>
<svg style="left:1173px;top:487px;" width="9" height="14" viewBox="-0.15 -0.1 9 14"><path d="M1.500 1L7 6.500L1.500 12" fill="none" stroke="#9a9a9a" stroke-width="1.700"/></svg>
<div style="left:153px;top:528px;width:1036px;height:361px;background:#fff;border-radius:13px;"></div>
<div style="top:542.1px;font-size:11.5px;line-height:13.8px;color:#333;font-weight:bold;left:165.4px;letter-spacing:.3px;">Campaign Analysis</div>
<div style="left:287.4px;top:530px;width:262px;height:33.6px;background:#f8f9fd;border-radius:9px;"></div>
<div style="top:539.06px;font-size:9.9px;line-height:11.88px;color:#444;left:311px;">Campaign</div>
<div style="top:542.26px;font-size:9.9px;line-height:11.88px;color:#222;left:368.6px;">Contains</div>
<div style="left:366.4px;top:560.4px;width:84.6px;height:1.4px;background:#dadada;"></div>
<svg style="left:434px;top:543px;" width="10" height="6" viewBox="-0.5 -0.6 10 6"><path d="M0 0h9l-4.500 5z" fill="#222"/></svg>
<div style="top:542.2px;font-size:10px;line-height:12px;color:#bdbdbd;left:458.6px;">Enter a value</div>
<div style="left:456px;top:560.4px;width:64.4px;height:1.4px;background:#dadada;"></div>
<div style="left:557px;top:530px;width:293.6px;height:33.6px;background:#f8f9fd;border-radius:9px;"></div>
<div style="top:541.6px;font-size:10px;line-height:12px;color:#333;left:563.4px;">Ad group</div>
<svg style="left:836px;top:541px;" width="11" height="11" viewBox="-1.44 -0.48 26.4 26.4"><path d="M7 10l5 5 5-5z" fill="#333"/></svg>
<div style="left:858px;top:530px;width:293.4px;height:33.6px;background:#f8f9fd;border-radius:9px;"></div>
<div style="top:541.6px;font-size:10px;line-height:12px;color:#333;left:864px;">Campaign status</div>
<svg style="left:1137px;top:541px;" width="11" height="11" viewBox="-0.96 -0.48 26.4 26.4"><path d="M7 10l5 5 5-5z" fill="#333"/></svg>
<svg style="left:1006px;top:570px;" width="22" height="22" viewBox="-0.114 -0.114 25.143 25.143"><path d="M4 12l1.41 1.41L11 7.83V20h2V7.83l5.58 5.59L20 12l-8-8-8 8z" fill="#111"/></svg>
<svg style="left:1037px;top:570px;" width="22" height="22" viewBox="-1.029 -0.114 25.143 25.143"><path d="M20 12l-1.41-1.41L13 16.17V4h-2v12.17l-5.58-5.59L4 12l8 8 8-8z" fill="#111"/></svg>
<svg style="left:1070px;top:569px;" width="22" height="22" viewBox="-0.571 -0.914 25.143 25.143"><path d="M12.600 4.400H6.200A1.800 1.800 0 0 0 4.400 6.200v11.600A1.800 1.800 0 0 0 6.200 19.600h11.600a1.800 1.800 0 0 0 1.800-1.800v-5.600" fill="none" stroke="#111" stroke-width="2"/><path d="M8 16.800v-5M11 16.800v-7.600M14 16.800v-4.600M17 16.800v-2.400" fill="none" stroke="#111" stroke-width="1.700"/><circle cx="18.400" cy="5.600" r="2.500" fill="none" stroke="#111" stroke-width="1.900"/><path d="M18.400 1.500v1.300M18.400 8.400v1.300M14.300 5.600h1.300M21.200 5.600h1.300M15.500 2.700l.9.900M20.400 7.600l.9.900M15.500 8.500l.9-.9M20.400 3.600l.9-.9" fill="none" stroke="#111" stroke-width="1.600"/></svg>
<div style="left:1105.1px;top:570.1px;width:1px;height:20px;background:#ccc;"></div>
<svg style="left:1118px;top:570px;" width="22" height="22" viewBox="-1.029 -0.114 25.143 25.143"><path d="M10 18h4v-2h-4v2zM3 6v2h18V6H3zm3 7h12v-2H6v2z" fill="#111"/></svg>
<svg style="left:1151px;top:570px;" width="22" height="22" viewBox="-0.114 -0.457 25.143 25.143"><path d="M12 8c1.1 0 2-.9 2-2s-.9-2-2-2-2 .9-2 2 .9 2 2 2zm0 2c-1.1 0-2 .9-2 2s.9 2 2 2 2-.9 2-2-.9-2-2-2zm0 6c-1.1 0-2 .9-2 2s.9 2 2 2 2-.9 2-2-.9-2-2-2z" fill="#111"/></svg>
<div style="top:588.6px;font-size:6px;line-height:7.2px;color:#dcaa00;font-weight:bold;left:863px;">Campaign Status, Campaign type, Campaign, Ad group, Ad type</div>
<div style="top:587.6px;font-size:7px;line-height:8.4px;color:#dcaa00;font-weight:bold;left:1063.6px;">Change Metrics</div>
<div style="top:607.66px;font-size:9.9px;line-height:11.88px;color:#333;font-weight:bold;left:165.4px;">Campaign</div>
<div style="top:607.66px;font-size:9.9px;line-height:11.88px;color:#333;font-weight:bold;left:290.6px;width:400px;text-align:center;">Cost</div>
<div style="top:607.66px;font-size:9.9px;line-height:11.88px;color:#333;font-weight:bold;left:365px;width:400px;text-align:center;">% Δ</div>
<div style="top:607.66px;font-size:9.9px;line-height:11.88px;color:#333;font-weight:bold;left:442.6px;width:400px;text-align:center;">Conversions</div>
<div style="top:607.66px;font-size:9.9px;line-height:11.88px;color:#333;font-weight:bold;left:523px;width:400px;text-align:center;">% Δ</div>
<div style="top:607.66px;font-size:9.9px;line-height:11.88px;color:#333;font-weight:bold;left:680px;width:400px;text-align:center;">% Δ</div>
<div style="top:607.66px;font-size:9.9px;line-height:11.88px;color:#333;left:753px;width:400px;text-align:center;">CPA</div>
<div style="top:607.66px;font-size:9.9px;line-height:11.88px;color:#333;font-weight:bold;left:823.6px;width:400px;text-align:center;">% Δ</div>
<div style="top:607.66px;font-size:9.9px;line-height:11.88px;color:#333;left:891.4px;width:400px;text-align:center;">ROAS</div>
<div style="top:607.66px;font-size:9.9px;line-height:11.88px;color:#333;font-weight:bold;left:958px;width:400px;text-align:center;">% Δ</div>
<div style="top:608.4px;font-size:9.9px;line-height:10px;color:#333;font-weight:bold;left:602.4px;width:400px;text-align:center;margin-top:-5px;">Conversion<br>Rate</div>
<div style="left:365px;top:653.5px;width:821px;height:1.2px;background:#e0e0e0;"></div>
<div style="left:157px;top:653.5px;width:5px;height:1.2px;background:#e0e0e0;"></div>
<div style="left:365px;top:679.1px;width:821px;height:1.2px;background:#e0e0e0;"></div>
<div style="left:157px;top:679.1px;width:5px;height:1.2px;background:#e0e0e0;"></div>
<div style="left:365px;top:705.7px;width:821px;height:1.2px;background:#e0e0e0;"></div>
<div style="left:157px;top:705.7px;width:5px;height:1.2px;background:#e0e0e0;"></div>
<div style="left:365px;top:731.5px;width:821px;height:1.2px;background:#e0e0e0;"></div>
<div style="left:157px;top:731.5px;width:5px;height:1.2px;background:#e0e0e0;"></div>
<div style="left:365px;top:757.1px;width:821px;height:1.2px;background:#e0e0e0;"></div>
<div style="left:157px;top:757.1px;width:5px;height:1.2px;background:#e0e0e0;"></div>
<div style="left:365px;top:782.9px;width:821px;height:1.2px;background:#e0e0e0;"></div>
<div style="left:157px;top:782.9px;width:5px;height:1.2px;background:#e0e0e0;"></div>
<div style="left:365px;top:808.9px;width:821px;height:1.2px;background:#e0e0e0;"></div>
<div style="left:157px;top:808.9px;width:5px;height:1.2px;background:#e0e0e0;"></div>
<div style="top:635.66px;font-size:8.9px;line-height:10.68px;color:#333;left:95px;width:400px;text-align:right;">$423.92</div>
<div style="left:497px;top:636.9px;width:29px;height:8.7px;background:#1cc6bd;"></div>
<div style="top:635.66px;font-size:8.9px;line-height:10.68px;color:#333;left:549.15px;">-4.3%</div>
<svg style="left:575px;top:639px;" width="4" height="6" viewBox="-0.05 0 4 6"><path d="M1.6 5.2L3.2 3.09H2.27V0H0.93V3.09H0z" fill="#ea4335"/></svg>
<div style="top:635.66px;font-size:8.9px;line-height:10.68px;color:#333;left:231.4px;width:400px;text-align:right;">21.99</div>
<div style="left:633.4px;top:636.9px;width:48.4px;height:8.7px;background:#1cc6bd;"></div>
<div style="top:635.66px;font-size:8.9px;line-height:10.68px;color:#333;left:705.92px;">46.6%</div>
<svg style="left:734px;top:639px;" width="4" height="6" viewBox="-0.275 0 4 6"><path d="M1.6 0L3.2 2.11H2.27V5.2H0.93V2.11H0z" fill="#34a853"/></svg>
<div style="top:635.66px;font-size:8.9px;line-height:10.68px;color:#333;left:398px;width:400px;text-align:right;">9.6%</div>
<div style="left:800.2px;top:636.9px;width:17.8px;height:8.7px;background:#1cc6bd;"></div>
<div style="top:635.66px;font-size:8.9px;line-height:10.68px;color:#333;left:862.92px;">38.3%</div>
<svg style="left:891px;top:639px;" width="4" height="6" viewBox="-0.275 0 4 6"><path d="M1.6 0L3.2 2.11H2.27V5.2H0.93V2.11H0z" fill="#34a853"/></svg>
<div style="top:635.66px;font-size:8.9px;line-height:10.68px;color:#333;left:553px;width:400px;text-align:right;">$19.27</div>
<div style="left:955px;top:636.9px;width:31.6px;height:8.7px;background:#1cc6bd;"></div>
<div style="top:635.66px;font-size:8.9px;line-height:10.68px;color:#333;left:1005.27px;">-34.7%</div>
<svg style="left:1036px;top:639px;" width="4" height="6" viewBox="-0.125 0 4 6"><path d="M1.6 5.2L3.2 3.09H2.27V0H0.93V3.09H0z" fill="#ea4335"/></svg>
<div style="top:635.66px;font-size:8.9px;line-height:10.68px;color:#333;left:682.2px;width:400px;text-align:right;">0.04</div>
<div style="left:1084.2px;top:636.9px;width:5.8px;height:8.7px;background:#1cc6bd;"></div>
<div style="top:635.66px;font-size:8.9px;line-height:10.68px;color:#333;left:1140.92px;">28.6%</div>
<svg style="left:1169px;top:639px;" width="4" height="6" viewBox="-0.275 0 4 6"><path d="M1.6 0L3.2 2.11H2.27V5.2H0.93V2.11H0z" fill="#34a853"/></svg>
<div style="top:661.86px;font-size:8.9px;line-height:10.68px;color:#333;left:95px;width:400px;text-align:right;">$79.6</div>
<div style="left:497px;top:663.1px;width:5.8px;height:8.7px;background:#1cc6bd;"></div>
<div style="top:661.86px;font-size:8.9px;line-height:10.68px;color:#333;left:549.15px;">-1.0%</div>
<svg style="left:575px;top:665px;" width="4" height="6" viewBox="-0.05 -0.2 4 6"><path d="M1.6 5.2L3.2 3.09H2.27V0H0.93V3.09H0z" fill="#ea4335"/></svg>
<div style="top:661.86px;font-size:8.9px;line-height:10.68px;color:#333;left:231.4px;width:400px;text-align:right;">20</div>
<div style="left:633.4px;top:663.1px;width:44.2px;height:8.7px;background:#1cc6bd;"></div>
<div style="top:661.86px;font-size:8.9px;line-height:10.68px;color:#333;left:703.45px;">122.2%</div>
<svg style="left:736px;top:665px;" width="4" height="6" viewBox="-0.75 -0.2 4 6"><path d="M1.6 0L3.2 2.11H2.27V5.2H0.93V2.11H0z" fill="#34a853"/></svg>
<div style="top:661.86px;font-size:8.9px;line-height:10.68px;color:#333;left:398px;width:400px;text-align:right;">21.74%</div>
<div style="left:800.2px;top:663.1px;width:40.2px;height:8.7px;background:#1cc6bd;"></div>
<div style="top:661.86px;font-size:8.9px;line-height:10.68px;color:#333;left:860.45px;">134.3%</div>
<svg style="left:893px;top:665px;" width="4" height="6" viewBox="-0.75 -0.2 4 6"><path d="M1.6 0L3.2 2.11H2.27V5.2H0.93V2.11H0z" fill="#34a853"/></svg>
<div style="top:661.86px;font-size:8.9px;line-height:10.68px;color:#333;left:553px;width:400px;text-align:right;">$3.98</div>
<div style="left:955px;top:663.1px;width:6.8px;height:8.7px;background:#1cc6bd;"></div>
<div style="top:661.86px;font-size:8.9px;line-height:10.68px;color:#333;left:1005.27px;">-55.4%</div>
<svg style="left:1036px;top:665px;" width="4" height="6" viewBox="-0.125 -0.2 4 6"><path d="M1.6 5.2L3.2 3.09H2.27V0H0.93V3.09H0z" fill="#ea4335"/></svg>
<div style="top:661.86px;font-size:8.9px;line-height:10.68px;color:#333;left:682.2px;width:400px;text-align:right;">0.24</div>
<div style="left:1084.2px;top:663.1px;width:37.8px;height:8.7px;background:#1cc6bd;"></div>
<div style="top:661.86px;font-size:8.9px;line-height:10.68px;color:#333;left:1138.45px;">113.2%</div>
<svg style="left:1171px;top:665px;" width="4" height="6" viewBox="-0.75 -0.2 4 6"><path d="M1.6 0L3.2 2.11H2.27V5.2H0.93V2.11H0z" fill="#34a853"/></svg>
<div style="top:686.86px;font-size:8.9px;line-height:10.68px;color:#333;left:95px;width:400px;text-align:right;">$296.47</div>
<div style="left:497px;top:688.1px;width:20px;height:8.7px;background:#1cc6bd;"></div>
<div style="top:686.86px;font-size:8.9px;line-height:10.68px;color:#333;left:550.4px;">0.7%</div>
<svg style="left:573px;top:690px;" width="4" height="6" viewBox="-0.8 -0.2 4 6"><path d="M1.6 0L3.2 2.11H2.27V5.2H0.93V2.11H0z" fill="#34a853"/></svg>
<div style="top:686.86px;font-size:8.9px;line-height:10.68px;color:#333;left:231.4px;width:400px;text-align:right;">0</div>
<div style="left:633.4px;top:688px;width:0.8px;height:8.6px;background:#3fd2ca;"></div>
<div style="top:687.26px;font-size:8.9px;line-height:10.68px;color:#333;left:523px;width:400px;text-align:center;">-</div>
<div style="top:686.86px;font-size:8.9px;line-height:10.68px;color:#333;left:398px;width:400px;text-align:right;">0%</div>
<div style="left:800.2px;top:688px;width:0.8px;height:8.6px;background:#3fd2ca;"></div>
<div style="top:687.26px;font-size:8.9px;line-height:10.68px;color:#333;left:680px;width:400px;text-align:center;">-</div>
<div style="top:686.86px;font-size:8.9px;line-height:10.68px;color:#333;left:553px;width:400px;text-align:right;">$0</div>
<div style="left:955px;top:688px;width:0.8px;height:8.6px;background:#3fd2ca;"></div>
<div style="top:687.26px;font-size:8.9px;line-height:10.68px;color:#333;left:823.6px;width:400px;text-align:center;">-</div>
<div style="top:686.86px;font-size:8.9px;line-height:10.68px;color:#333;left:682.2px;width:400px;text-align:right;">0</div>
<div style="left:1084.2px;top:688px;width:0.8px;height:8.6px;background:#3fd2ca;"></div>
<div style="top:687.26px;font-size:8.9px;line-height:10.68px;color:#333;left:958px;width:400px;text-align:center;">-</div>
<div style="top:713.66px;font-size:8.9px;line-height:10.68px;color:#333;left:95px;width:400px;text-align:right;">$0</div>
<div style="left:497px;top:714.8px;width:0.8px;height:8.6px;background:#3fd2ca;"></div>
<div style="top:713.66px;font-size:8.9px;line-height:10.68px;color:#333;left:544.2px;">-100.0%</div>
<svg style="left:580px;top:717px;" width="4" height="6" viewBox="0 0 4 6"><path d="M1.6 5.2L3.2 3.09H2.27V0H0.93V3.09H0z" fill="#ea4335"/></svg>
<div style="top:713.66px;font-size:8.9px;line-height:10.68px;color:#333;left:231.4px;width:400px;text-align:right;">0</div>
<div style="left:633.4px;top:714.8px;width:0.8px;height:8.6px;background:#3fd2ca;"></div>
<div style="top:713.66px;font-size:8.9px;line-height:10.68px;color:#333;left:702.2px;">-100.0%</div>
<svg style="left:738px;top:717px;" width="4" height="6" viewBox="0 0 4 6"><path d="M1.6 5.2L3.2 3.09H2.27V0H0.93V3.09H0z" fill="#ea4335"/></svg>
<div style="top:713.66px;font-size:8.9px;line-height:10.68px;color:#333;left:398px;width:400px;text-align:right;">0%</div>
<div style="left:800.2px;top:714.8px;width:0.8px;height:8.6px;background:#3fd2ca;"></div>
<div style="top:713.66px;font-size:8.9px;line-height:10.68px;color:#333;left:859.2px;">-100.0%</div>
<svg style="left:895px;top:717px;" width="4" height="6" viewBox="-0 0 4 6"><path d="M1.6 5.2L3.2 3.09H2.27V0H0.93V3.09H0z" fill="#ea4335"/></svg>
<div style="top:713.66px;font-size:8.9px;line-height:10.68px;color:#333;left:553px;width:400px;text-align:right;">$0</div>
<div style="left:955px;top:714.8px;width:0.8px;height:8.6px;background:#3fd2ca;"></div>
<div style="top:713.66px;font-size:8.9px;line-height:10.68px;color:#333;left:1002.4px;">-100.0...</div>
<div style="top:713.66px;font-size:8.9px;line-height:10.68px;color:#333;left:682.2px;width:400px;text-align:right;">0</div>
<div style="left:1084.2px;top:714.8px;width:0.8px;height:8.6px;background:#3fd2ca;"></div>
<div style="top:713.66px;font-size:8.9px;line-height:10.68px;color:#333;left:1136.8px;">-100.0...</div>
<div style="top:739.86px;font-size:8.9px;line-height:10.68px;color:#333;left:95px;width:400px;text-align:right;">$0</div>
<div style="left:497px;top:741px;width:0.8px;height:8.6px;background:#3fd2ca;"></div>
<div style="top:740.26px;font-size:8.9px;line-height:10.68px;color:#333;left:365px;width:400px;text-align:center;">-</div>
<div style="top:739.86px;font-size:8.9px;line-height:10.68px;color:#333;left:231.4px;width:400px;text-align:right;">0</div>
<div style="left:633.4px;top:741px;width:0.8px;height:8.6px;background:#3fd2ca;"></div>
<div style="top:740.26px;font-size:8.9px;line-height:10.68px;color:#333;left:523px;width:400px;text-align:center;">-</div>
<div style="top:739.86px;font-size:8.9px;line-height:10.68px;color:#333;left:398px;width:400px;text-align:right;">0%</div>
<div style="left:800.2px;top:741px;width:0.8px;height:8.6px;background:#3fd2ca;"></div>
<div style="top:740.26px;font-size:8.9px;line-height:10.68px;color:#333;left:680px;width:400px;text-align:center;">-</div>
<div style="top:739.86px;font-size:8.9px;line-height:10.68px;color:#333;left:553px;width:400px;text-align:right;">$0</div>
<div style="left:955px;top:741px;width:0.8px;height:8.6px;background:#3fd2ca;"></div>
<div style="top:740.26px;font-size:8.9px;line-height:10.68px;color:#333;left:823.6px;width:400px;text-align:center;">-</div>
<div style="top:739.86px;font-size:8.9px;line-height:10.68px;color:#333;left:682.2px;width:400px;text-align:right;">0</div>
<div style="left:1084.2px;top:741px;width:0.8px;height:8.6px;background:#3fd2ca;"></div>
<div style="top:740.26px;font-size:8.9px;line-height:10.68px;color:#333;left:958px;width:400px;text-align:center;">-</div>
<div style="top:765.46px;font-size:8.9px;line-height:10.68px;color:#333;left:95px;width:400px;text-align:right;">$0</div>
<div style="left:497px;top:766.6px;width:0.8px;height:8.6px;background:#3fd2ca;"></div>
<div style="top:765.86px;font-size:8.9px;line-height:10.68px;color:#333;left:365px;width:400px;text-align:center;">-</div>
<div style="top:765.46px;font-size:8.9px;line-height:10.68px;color:#333;left:231.4px;width:400px;text-align:right;">0</div>
<div style="left:633.4px;top:766.6px;width:0.8px;height:8.6px;background:#3fd2ca;"></div>
<div style="top:765.86px;font-size:8.9px;line-height:10.68px;color:#333;left:523px;width:400px;text-align:center;">-</div>
<div style="top:765.46px;font-size:8.9px;line-height:10.68px;color:#333;left:398px;width:400px;text-align:right;">0%</div>
<div style="left:800.2px;top:766.6px;width:0.8px;height:8.6px;background:#3fd2ca;"></div>
<div style="top:765.86px;font-size:8.9px;line-height:10.68px;color:#333;left:680px;width:400px;text-align:center;">-</div>
<div style="top:765.46px;font-size:8.9px;line-height:10.68px;color:#333;left:553px;width:400px;text-align:right;">$0</div>
<div style="left:955px;top:766.6px;width:0.8px;height:8.6px;background:#3fd2ca;"></div>
<div style="top:765.86px;font-size:8.9px;line-height:10.68px;color:#333;left:823.6px;width:400px;text-align:center;">-</div>
<div style="top:765.46px;font-size:8.9px;line-height:10.68px;color:#333;left:682.2px;width:400px;text-align:right;">0</div>
<div style="left:1084.2px;top:766.6px;width:0.8px;height:8.6px;background:#3fd2ca;"></div>
<div style="top:765.86px;font-size:8.9px;line-height:10.68px;color:#333;left:958px;width:400px;text-align:center;">-</div>
<div style="top:790.86px;font-size:8.9px;line-height:10.68px;color:#333;left:95px;width:400px;text-align:right;">$0</div>
<div style="left:497px;top:792px;width:0.8px;height:8.6px;background:#3fd2ca;"></div>
<div style="top:790.86px;font-size:8.9px;line-height:10.68px;color:#333;left:544.2px;">-100.0%</div>
<svg style="left:580px;top:794px;" width="4" height="6" viewBox="0 -0.2 4 6"><path d="M1.6 5.2L3.2 3.09H2.27V0H0.93V3.09H0z" fill="#ea4335"/></svg>
<div style="top:790.86px;font-size:8.9px;line-height:10.68px;color:#333;left:231.4px;width:400px;text-align:right;">0</div>
<div style="left:633.4px;top:792px;width:0.8px;height:8.6px;background:#3fd2ca;"></div>
<div style="top:791.26px;font-size:8.9px;line-height:10.68px;color:#333;left:523px;width:400px;text-align:center;">-</div>
<div style="top:790.86px;font-size:8.9px;line-height:10.68px;color:#333;left:398px;width:400px;text-align:right;">0%</div>
<div style="left:800.2px;top:792px;width:0.8px;height:8.6px;background:#3fd2ca;"></div>
<div style="top:791.26px;font-size:8.9px;line-height:10.68px;color:#333;left:680px;width:400px;text-align:center;">-</div>
<div style="top:790.86px;font-size:8.9px;line-height:10.68px;color:#333;left:553px;width:400px;text-align:right;">$0</div>
<div style="left:955px;top:792px;width:0.8px;height:8.6px;background:#3fd2ca;"></div>
<div style="top:791.26px;font-size:8.9px;line-height:10.68px;color:#333;left:823.6px;width:400px;text-align:center;">-</div>
<div style="top:790.86px;font-size:8.9px;line-height:10.68px;color:#333;left:682.2px;width:400px;text-align:right;">0</div>
<div style="left:1084.2px;top:792px;width:0.8px;height:8.6px;background:#3fd2ca;"></div>
<div style="top:791.26px;font-size:8.9px;line-height:10.68px;color:#333;left:958px;width:400px;text-align:center;">-</div>
<div style="top:817.46px;font-size:8.9px;line-height:10.68px;color:#333;left:95px;width:400px;text-align:right;">$0</div>
<div style="left:497px;top:818.6px;width:0.8px;height:8.6px;background:#3fd2ca;"></div>
<div style="top:817.86px;font-size:8.9px;line-height:10.68px;color:#333;left:365px;width:400px;text-align:center;">-</div>
<div style="top:817.46px;font-size:8.9px;line-height:10.68px;color:#333;left:231.4px;width:400px;text-align:right;">0</div>
<div style="left:633.4px;top:818.6px;width:0.8px;height:8.6px;background:#3fd2ca;"></div>
<div style="top:817.86px;font-size:8.9px;line-height:10.68px;color:#333;left:523px;width:400px;text-align:center;">-</div>
<div style="top:817.46px;font-size:8.9px;line-height:10.68px;color:#333;left:398px;width:400px;text-align:right;">0%</div>
<div style="left:800.2px;top:818.6px;width:0.8px;height:8.6px;background:#3fd2ca;"></div>
<div style="top:817.86px;font-size:8.9px;line-height:10.68px;color:#333;left:680px;width:400px;text-align:center;">-</div>
<div style="top:817.46px;font-size:8.9px;line-height:10.68px;color:#333;left:553px;width:400px;text-align:right;">$0</div>
<div style="left:955px;top:818.6px;width:0.8px;height:8.6px;background:#3fd2ca;"></div>
<div style="top:817.86px;font-size:8.9px;line-height:10.68px;color:#333;left:823.6px;width:400px;text-align:center;">-</div>
<div style="top:817.46px;font-size:8.9px;line-height:10.68px;color:#333;left:682.2px;width:400px;text-align:right;">0</div>
<div style="left:1084.2px;top:818.6px;width:0.8px;height:8.6px;background:#3fd2ca;"></div>
<div style="top:817.86px;font-size:8.9px;line-height:10.68px;color:#333;left:958px;width:400px;text-align:center;">-</div>
<div style="top:791.12px;font-size:8.8px;line-height:10.56px;color:#333;left:366.6px;">Living</div>
<div style="top:834.06px;font-size:8.9px;line-height:10.68px;color:#222;font-weight:bold;left:165.4px;">Grand total</div>
<div style="top:834.06px;font-size:8.9px;line-height:10.68px;color:#222;font-weight:bold;left:290.6px;width:400px;text-align:center;">$799.99</div>
<div style="top:834.06px;font-size:8.9px;line-height:10.68px;color:#222;font-weight:bold;left:442.6px;width:400px;text-align:center;">41.99</div>
<div style="top:834.06px;font-size:8.9px;line-height:10.68px;color:#222;font-weight:bold;left:602.4px;width:400px;text-align:center;">0.07%</div>
<div style="top:834.06px;font-size:8.9px;line-height:10.68px;color:#222;font-weight:bold;left:753px;width:400px;text-align:center;">$19.05</div>
<div style="top:834.06px;font-size:8.9px;line-height:10.68px;color:#222;font-weight:bold;left:891.4px;width:400px;text-align:center;">0.04</div>
<div style="top:834.06px;font-size:8.9px;line-height:10.68px;color:#222;font-weight:bold;left:548.92px;">-3.1%</div>
<svg style="left:575px;top:837px;" width="4" height="6" viewBox="-0.278 -0.4 4 6"><path d="M1.6 5.2L3.2 3.09H2.27V0H0.93V3.09H0z" fill="#ea4335"/></svg>
<div style="top:834.06px;font-size:8.9px;line-height:10.68px;color:#222;font-weight:bold;left:705.67px;">68.0%</div>
<svg style="left:734px;top:837px;" width="4" height="6" viewBox="-0.527 -0.4 4 6"><path d="M1.6 0L3.2 2.11H2.27V5.2H0.93V2.11H0z" fill="#34a853"/></svg>
<div style="top:834.06px;font-size:8.9px;line-height:10.68px;color:#222;font-weight:bold;left:861.4px;">-69.0%</div>
<svg style="left:892px;top:837px;" width="5" height="6" viewBox="-0.803 -0.4 5 6"><path d="M1.6 5.2L3.2 3.09H2.27V0H0.93V3.09H0z" fill="#ea4335"/></svg>
<div style="top:834.06px;font-size:8.9px;line-height:10.68px;color:#222;font-weight:bold;left:1005px;">-42.3%</div>
<svg style="left:1036px;top:837px;" width="4" height="6" viewBox="-0.403 -0.4 4 6"><path d="M1.6 5.2L3.2 3.09H2.27V0H0.93V3.09H0z" fill="#ea4335"/></svg>
<div style="top:834.06px;font-size:8.9px;line-height:10.68px;color:#222;font-weight:bold;left:1140.67px;">57.1%</div>
<svg style="left:1169px;top:837px;" width="4" height="6" viewBox="-0.528 -0.4 4 6"><path d="M1.6 0L3.2 2.11H2.27V5.2H0.93V2.11H0z" fill="#34a853"/></svg>
<div style="top:860.52px;font-size:8.8px;line-height:10.56px;color:#333;left:1072px;">1 - 14 / 14</div>
<svg style="left:1134px;top:858px;" width="9" height="14" viewBox="-0.15 -0.9 9 14"><path d="M7 1L1.500 6.500L7 12" fill="none" stroke="#9a9a9a" stroke-width="1.700"/></svg>
<svg style="left:1166px;top:858px;" width="10" height="14" viewBox="-0.75 -0.9 10 14"><path d="M1.500 1L7 6.500L1.500 12" fill="none" stroke="#9a9a9a" stroke-width="1.700"/></svg>
</div>
</body></html>
